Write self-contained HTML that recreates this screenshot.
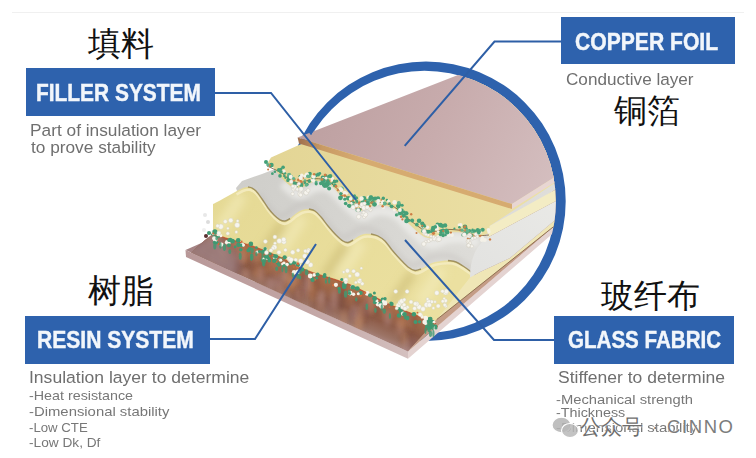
<!DOCTYPE html>
<html><head><meta charset="utf-8">
<style>
html,body{margin:0;padding:0;background:#fff;}
body{width:756px;height:458px;position:relative;overflow:hidden;font-family:"Liberation Sans",sans-serif;}
.abs{position:absolute;white-space:nowrap;}
.box{position:absolute;background:#2e62ad;}
.bt,.g1,.g2,.cn{position:absolute;white-space:nowrap;transform-origin:0 0;}
.bt{color:#f2f6fb;font-weight:bold;font-size:24px;line-height:24px;-webkit-text-stroke:0.45px #f2f6fb;}
.cn{color:#111;font-size:33px;line-height:33px;}
.g1{color:#6f6f6f;font-size:17.4px;line-height:17.4px;}
.g2{color:#777;font-size:13.5px;line-height:13.5px;}
svg{position:absolute;left:0;top:0;}
</style></head><body>
<div class="abs" style="left:12px;top:12px;width:732px;height:1px;background:#f0f0f0"></div>
<svg width="756" height="458" viewBox="0 0 756 458">
<defs>
<clipPath id="cl"><circle cx="424.4" cy="201.9" r="131.5"/><polygon points="0,0 228,0 310,134 470,300 470,458 0,458"/></clipPath>
<linearGradient id="cu" x1="0" y1="0" x2="1" y2="0.3"><stop offset="0" stop-color="#b89a9b"/><stop offset="0.55" stop-color="#c8acad"/><stop offset="1" stop-color="#d6c1c2"/></linearGradient>
<linearGradient id="ylw" x1="0" y1="0" x2="1" y2="0"><stop offset="0" stop-color="#e3d595"/><stop offset="1" stop-color="#efe4ac"/></linearGradient>
<linearGradient id="ylw2" x1="0" y1="0" x2="1" y2="0.5"><stop offset="0" stop-color="#e5d994"/><stop offset="1" stop-color="#ebe0a0"/></linearGradient>
<linearGradient id="gls" x1="0" y1="0" x2="1" y2="0.4"><stop offset="0" stop-color="#cac9c5"/><stop offset="0.5" stop-color="#d6d5d1"/><stop offset="1" stop-color="#e2e1dd"/></linearGradient>
<linearGradient id="cuf" x1="297" y1="0" x2="360" y2="0" gradientUnits="userSpaceOnUse"><stop offset="0" stop-color="#9c6c4c"/><stop offset="0.4" stop-color="#c89a64"/><stop offset="1" stop-color="#d6ab70"/></linearGradient>
<linearGradient id="cuface" x1="185" y1="0" x2="408" y2="0" gradientUnits="userSpaceOnUse"><stop offset="0" stop-color="#b89898"/><stop offset="0.6" stop-color="#c4a8a7"/><stop offset="1" stop-color="#d4c0bf"/></linearGradient>
<linearGradient id="glsR" x1="0" y1="1" x2="1" y2="0"><stop offset="0" stop-color="#e2e2e0"/><stop offset="1" stop-color="#ebebe8"/></linearGradient>
<linearGradient id="brn" gradientUnits="userSpaceOnUse" x1="300" y1="270" x2="287" y2="302"><stop offset="0" stop-color="#a86c48"/><stop offset="0.5" stop-color="#8e5c48"/><stop offset="0.85" stop-color="#9c7466"/><stop offset="1" stop-color="#a8847e"/></linearGradient>
<filter id="bl2" x="-50%" y="-50%" width="200%" height="200%"><feGaussianBlur stdDeviation="2.5"/></filter>
<filter id="bl3" x="-50%" y="-50%" width="200%" height="200%"><feGaussianBlur stdDeviation="4"/></filter>
<filter id="bl1"><feGaussianBlur stdDeviation="0.75"/></filter>
</defs>
<path fill-rule="evenodd" fill="#2e62ad" d="M286.3,201.2 A139.7,139.7 0 1,0 565.7,201.2 A139.7,139.7 0 1,0 286.3,201.2 Z M293.4,201.9 A131,131 0 1,0 555.4,201.9 A131,131 0 1,0 293.4,201.9 Z"/>
<g clip-path="url(#cl)">
<polygon points="185.5,250.0 408.0,350.0 640.0,154.0 640.0,40.0 215.0,237.0" fill="#a58485"/>
<polygon points="185.5,250.0 408.0,351.6 408.0,358.7 186.0,257.0" fill="url(#cuface)"/>
<polygon points="408.0,351.6 554.0,226.0 640.0,150.0 640.0,158.0 554.0,232.5 408.0,358.7" fill="#e4d3d1"/>
<path d="M236,188 L242,181 L262,174 L275,169 L640,20 L640,130 L489,236 L472,276 L445,300 L250,230 Z" fill="url(#gls)"/>
<g filter="url(#bl2)">
<path d="M283.0,183.3 C284.0,184.3 287.0,187.6 289.0,189.3 C291.0,191.0 293.2,192.6 295.0,193.6 C296.8,194.5 298.3,195.0 300.0,194.9 C301.7,194.9 303.2,194.1 305.0,193.3 C306.8,192.4 309.0,190.7 311.0,189.7 C313.0,188.7 314.8,187.8 317.0,187.4 C319.2,186.9 321.8,186.8 324.0,187.1 C326.2,187.4 328.0,187.9 330.0,189.1 C332.0,190.3 333.8,192.2 336.0,194.3 C338.2,196.5 340.5,199.5 343.0,202.1 C345.5,204.6 348.5,207.7 351.0,209.8 C353.5,212.0 356.0,214.0 358.0,215.2 C360.0,216.3 361.3,216.7 363.0,216.7 C364.7,216.7 366.3,215.8 368.0,215.1 C369.7,214.4 371.2,213.3 373.0,212.7 C374.8,212.0 376.8,211.3 379.0,211.1 C381.2,210.9 383.7,211.2 386.0,211.6 C388.3,212.0 390.7,212.6 393.0,213.7 C395.3,214.8 397.7,216.2 400.0,218.2 C402.3,220.3 404.5,223.4 407.0,225.9 C409.5,228.5 412.3,231.3 415.0,233.7 C417.7,236.2 420.5,239.0 423.0,240.7 C425.5,242.4 427.8,243.6 430.0,244.0 C432.2,244.4 434.0,243.8 436.0,243.3 C438.0,242.7 439.7,241.7 442.0,240.9 C444.3,240.1 446.5,239.1 450.0,238.7 C453.5,238.3 459.5,238.2 463.0,238.4 C466.5,238.7 468.5,239.3 471.0,240.2 C473.5,241.1 476.8,243.3 478.0,243.9" stroke="#efefed" stroke-width="9" fill="none" opacity="0.7"/>
<path d="M259.0,194.0 C260.0,195.5 263.0,200.3 265.0,203.0 C267.0,205.7 269.0,208.0 271.0,210.0 C273.0,212.0 275.2,213.8 277.0,214.8 C278.8,215.8 280.3,216.2 282.0,216.0 C283.7,215.8 285.2,214.8 287.0,213.5 C288.8,212.2 291.0,209.9 293.0,208.5 C295.0,207.1 296.8,205.8 299.0,205.0 C301.2,204.2 303.8,203.8 306.0,204.0 C308.2,204.2 310.0,204.7 312.0,206.0 C314.0,207.3 315.8,209.5 318.0,212.0 C320.2,214.5 322.5,218.0 325.0,221.0 C327.5,224.0 330.5,227.5 333.0,230.0 C335.5,232.5 338.0,234.8 340.0,236.0 C342.0,237.2 343.3,237.7 345.0,237.5 C346.7,237.3 348.3,236.0 350.0,235.0 C351.7,234.0 353.2,232.5 355.0,231.5 C356.8,230.5 358.8,229.4 361.0,229.0 C363.2,228.6 365.7,228.7 368.0,229.0 C370.3,229.3 372.7,229.8 375.0,231.0 C377.3,232.2 379.7,233.7 382.0,236.0 C384.3,238.3 386.5,242.0 389.0,245.0 C391.5,248.0 394.3,251.2 397.0,254.0 C399.7,256.8 402.5,260.1 405.0,262.0 C407.5,263.9 409.8,265.2 412.0,265.5 C414.2,265.8 416.0,264.8 418.0,264.0 C420.0,263.2 421.7,261.7 424.0,260.5 C426.3,259.3 428.5,257.8 432.0,257.0 C435.5,256.2 441.5,255.5 445.0,255.5 C448.5,255.5 450.5,256.1 453.0,257.0 C455.5,257.9 457.7,259.5 460.0,261.0 C462.3,262.5 464.8,264.3 467.0,266.0 C469.2,267.7 471.3,269.2 473.0,271.4 C474.7,273.6 476.3,277.7 477.0,279.0" stroke="#b8b7b2" stroke-width="6" fill="none" opacity="0.3"/>
</g>
<clipPath id="yc"><path d="M213.0,204.0 C214.2,203.4 217.5,201.8 220.0,200.5 C222.5,199.2 225.3,197.5 228.0,196.0 C230.7,194.5 233.5,192.8 236.0,191.5 C238.5,190.2 241.0,188.8 243.0,188.0 C245.0,187.2 246.5,187.0 248.0,187.0 C249.5,187.0 250.7,187.3 252.0,188.0 C253.3,188.7 254.3,189.2 256.0,191.0 C257.7,192.8 260.0,196.2 262.0,199.0 C264.0,201.8 266.0,205.3 268.0,208.0 C270.0,210.7 272.0,213.0 274.0,215.0 C276.0,217.0 278.2,218.8 280.0,219.8 C281.8,220.8 283.3,221.2 285.0,221.0 C286.7,220.8 288.2,219.8 290.0,218.5 C291.8,217.2 294.0,214.9 296.0,213.5 C298.0,212.1 299.8,210.8 302.0,210.0 C304.2,209.2 306.8,208.8 309.0,209.0 C311.2,209.2 313.0,209.7 315.0,211.0 C317.0,212.3 318.8,214.5 321.0,217.0 C323.2,219.5 325.5,223.0 328.0,226.0 C330.5,229.0 333.5,232.5 336.0,235.0 C338.5,237.5 341.0,239.8 343.0,241.0 C345.0,242.2 346.3,242.7 348.0,242.5 C349.7,242.3 351.3,241.0 353.0,240.0 C354.7,239.0 356.2,237.5 358.0,236.5 C359.8,235.5 361.8,234.4 364.0,234.0 C366.2,233.6 368.7,233.7 371.0,234.0 C373.3,234.3 375.7,234.8 378.0,236.0 C380.3,237.2 382.7,238.7 385.0,241.0 C387.3,243.3 389.5,247.0 392.0,250.0 C394.5,253.0 397.3,256.2 400.0,259.0 C402.7,261.8 405.5,265.1 408.0,267.0 C410.5,268.9 412.8,270.2 415.0,270.5 C417.2,270.8 419.0,269.8 421.0,269.0 C423.0,268.2 424.7,266.7 427.0,265.5 C429.3,264.3 431.5,262.8 435.0,262.0 C438.5,261.2 444.5,260.5 448.0,260.5 C451.5,260.5 453.5,261.1 456.0,262.0 C458.5,262.9 460.7,264.5 463.0,266.0 C465.3,267.5 467.8,269.3 470.0,271.0 C472.2,272.7 474.3,274.2 476.0,276.4 C477.7,278.6 479.3,282.7 480.0,284.0 L437.0,319.3 L436.0,322.0 L436.0,324.0 C434.7,323.3 435.9,323.3 428.0,320.0 C420.1,316.7 401.7,309.9 388.6,304.0 C375.5,298.1 362.4,289.9 349.3,284.5 C336.2,279.1 321.8,276.3 310.0,271.7 C298.2,267.1 288.2,260.9 278.6,256.7 C269.0,252.4 262.6,249.7 252.4,246.2 C242.2,242.7 224.1,237.7 217.5,235.7 C210.9,233.7 213.8,234.3 213.0,234.0 Z"/></clipPath>
<path d="M213.0,204.0 C214.2,203.4 217.5,201.8 220.0,200.5 C222.5,199.2 225.3,197.5 228.0,196.0 C230.7,194.5 233.5,192.8 236.0,191.5 C238.5,190.2 241.0,188.8 243.0,188.0 C245.0,187.2 246.5,187.0 248.0,187.0 C249.5,187.0 250.7,187.3 252.0,188.0 C253.3,188.7 254.3,189.2 256.0,191.0 C257.7,192.8 260.0,196.2 262.0,199.0 C264.0,201.8 266.0,205.3 268.0,208.0 C270.0,210.7 272.0,213.0 274.0,215.0 C276.0,217.0 278.2,218.8 280.0,219.8 C281.8,220.8 283.3,221.2 285.0,221.0 C286.7,220.8 288.2,219.8 290.0,218.5 C291.8,217.2 294.0,214.9 296.0,213.5 C298.0,212.1 299.8,210.8 302.0,210.0 C304.2,209.2 306.8,208.8 309.0,209.0 C311.2,209.2 313.0,209.7 315.0,211.0 C317.0,212.3 318.8,214.5 321.0,217.0 C323.2,219.5 325.5,223.0 328.0,226.0 C330.5,229.0 333.5,232.5 336.0,235.0 C338.5,237.5 341.0,239.8 343.0,241.0 C345.0,242.2 346.3,242.7 348.0,242.5 C349.7,242.3 351.3,241.0 353.0,240.0 C354.7,239.0 356.2,237.5 358.0,236.5 C359.8,235.5 361.8,234.4 364.0,234.0 C366.2,233.6 368.7,233.7 371.0,234.0 C373.3,234.3 375.7,234.8 378.0,236.0 C380.3,237.2 382.7,238.7 385.0,241.0 C387.3,243.3 389.5,247.0 392.0,250.0 C394.5,253.0 397.3,256.2 400.0,259.0 C402.7,261.8 405.5,265.1 408.0,267.0 C410.5,268.9 412.8,270.2 415.0,270.5 C417.2,270.8 419.0,269.8 421.0,269.0 C423.0,268.2 424.7,266.7 427.0,265.5 C429.3,264.3 431.5,262.8 435.0,262.0 C438.5,261.2 444.5,260.5 448.0,260.5 C451.5,260.5 453.5,261.1 456.0,262.0 C458.5,262.9 460.7,264.5 463.0,266.0 C465.3,267.5 467.8,269.3 470.0,271.0 C472.2,272.7 474.3,274.2 476.0,276.4 C477.7,278.6 479.3,282.7 480.0,284.0 L437.0,319.3 L436.0,322.0 L436.0,324.0 C434.7,323.3 435.9,323.3 428.0,320.0 C420.1,316.7 401.7,309.9 388.6,304.0 C375.5,298.1 362.4,289.9 349.3,284.5 C336.2,279.1 321.8,276.3 310.0,271.7 C298.2,267.1 288.2,260.9 278.6,256.7 C269.0,252.4 262.6,249.7 252.4,246.2 C242.2,242.7 224.1,237.7 217.5,235.7 C210.9,233.7 213.8,234.3 213.0,234.0 Z" fill="url(#ylw2)"/>
<g clip-path="url(#yc)"><g filter="url(#bl3)">
<path d="M283,223 L261,255" stroke="#c4b46c" stroke-width="9" fill="none" opacity="0.55"/>
<path d="M346,244.5 L324,276.5" stroke="#c4b46c" stroke-width="9" fill="none" opacity="0.55"/>
<path d="M413,272.5 L391,304.5" stroke="#c4b46c" stroke-width="9" fill="none" opacity="0.55"/>
<path d="M242,195 L220,229" stroke="#f4ecbc" stroke-width="12" fill="none" opacity="0.6"/>
<path d="M303,217 L281,251" stroke="#f4ecbc" stroke-width="12" fill="none" opacity="0.6"/>
<path d="M362,242 L340,276" stroke="#f4ecbc" stroke-width="12" fill="none" opacity="0.6"/>
<path d="M442.5,268.5 L420.5,302.5" stroke="#f4ecbc" stroke-width="12" fill="none" opacity="0.6"/>
</g></g>
<g clip-path="url(#yc)">
<path d="M236.5,194.3 C237.7,193.7 241.5,191.6 243.5,190.8 C245.5,190.1 247.0,189.8 248.5,189.8 C250.0,189.8 251.2,190.1 252.5,190.8 C253.8,191.5 254.8,192.0 256.5,193.8 C258.2,195.6 260.5,199.0 262.5,201.8 C264.5,204.6 266.5,208.1 268.5,210.8 C270.5,213.5 272.5,215.8 274.5,217.8 C276.5,219.8 278.7,221.6 280.5,222.6 C282.3,223.6 283.8,224.0 285.5,223.8 C287.2,223.6 288.7,222.6 290.5,221.3 C292.3,220.1 294.5,217.7 296.5,216.3 C298.5,214.9 300.3,213.6 302.5,212.8 C304.7,212.1 307.3,211.6 309.5,211.8 C311.7,212.0 313.5,212.5 315.5,213.8 C317.5,215.1 319.3,217.3 321.5,219.8 C323.7,222.3 326.0,225.8 328.5,228.8 C331.0,231.8 334.0,235.3 336.5,237.8 C339.0,240.3 341.5,242.6 343.5,243.8 C345.5,245.1 346.8,245.5 348.5,245.3 C350.2,245.1 351.8,243.8 353.5,242.8 C355.2,241.8 356.7,240.3 358.5,239.3 C360.3,238.3 362.3,237.2 364.5,236.8 C366.7,236.4 369.2,236.5 371.5,236.8 C373.8,237.1 376.2,237.6 378.5,238.8 C380.8,240.0 383.2,241.5 385.5,243.8 C387.8,246.1 390.0,249.8 392.5,252.8 C395.0,255.8 397.8,259.0 400.5,261.8 C403.2,264.6 406.0,267.9 408.5,269.8 C411.0,271.7 413.3,273.0 415.5,273.3 C417.7,273.6 419.5,272.6 421.5,271.8 C423.5,271.0 425.2,269.5 427.5,268.3 C429.8,267.1 432.0,265.6 435.5,264.8 C439.0,264.0 445.0,263.3 448.5,263.3 C452.0,263.3 454.0,263.9 456.5,264.8 C459.0,265.7 461.2,267.3 463.5,268.8 C465.8,270.3 468.3,272.1 470.5,273.8 C472.7,275.5 474.8,277.0 476.5,279.2 C478.2,281.4 479.8,285.5 480.5,286.8" stroke="#f4ecc2" stroke-width="2.6" fill="none" opacity="0.85"/>
</g>
<path d="M248.0,187.0 C248.7,187.2 250.7,187.3 252.0,188.0 C253.3,188.7 254.3,189.2 256.0,191.0 C257.7,192.8 260.0,196.2 262.0,199.0 C264.0,201.8 266.0,205.3 268.0,208.0 C270.0,210.7 272.0,213.0 274.0,215.0 C276.0,217.0 278.2,218.8 280.0,219.8 C281.8,220.8 283.3,221.2 285.0,221.0 C286.7,220.8 289.2,218.9 290.0,218.5" fill="none" stroke="#8c7a42" stroke-width="1.4" opacity="0.75"/>
<path d="M309.0,209.0 C310.0,209.3 313.0,209.7 315.0,211.0 C317.0,212.3 318.8,214.5 321.0,217.0 C323.2,219.5 325.5,223.0 328.0,226.0 C330.5,229.0 333.5,232.5 336.0,235.0 C338.5,237.5 341.0,239.8 343.0,241.0 C345.0,242.2 346.3,242.7 348.0,242.5 C349.7,242.3 352.2,240.4 353.0,240.0" fill="none" stroke="#8c7a42" stroke-width="1.4" opacity="0.75"/>
<path d="M371.0,234.0 C372.2,234.3 375.7,234.8 378.0,236.0 C380.3,237.2 382.7,238.7 385.0,241.0 C387.3,243.3 389.5,247.0 392.0,250.0 C394.5,253.0 397.3,256.2 400.0,259.0 C402.7,261.8 405.5,265.1 408.0,267.0 C410.5,268.9 412.8,270.2 415.0,270.5 C417.2,270.8 420.0,269.2 421.0,269.0" fill="none" stroke="#8c7a42" stroke-width="1.4" opacity="0.75"/>
<path d="M448.0,260.5 C449.3,260.8 453.5,261.1 456.0,262.0 C458.5,262.9 460.7,264.5 463.0,266.0 C465.3,267.5 467.8,269.3 470.0,271.0 C472.2,272.7 475.0,275.5 476.0,276.4" fill="none" stroke="#8c7a42" stroke-width="1.4" opacity="0.75"/>
<clipPath id="bc"><path d="M213.0,234.0 C213.8,234.3 210.9,233.7 217.5,235.7 C224.1,237.7 242.2,242.7 252.4,246.2 C262.6,249.7 269.0,252.4 278.6,256.7 C288.2,260.9 298.2,267.1 310.0,271.7 C321.8,276.3 336.2,279.1 349.3,284.5 C362.4,289.9 375.5,298.1 388.6,304.0 C401.7,309.9 420.1,316.7 428.0,320.0 C435.9,323.3 434.7,323.3 436.0,324.0 L437.0,319.3 L408.0,351.6 L300.0,302.5 L191.0,252.5 L205.0,240.0 Z"/></clipPath>
<path d="M213.0,234.0 C213.8,234.3 210.9,233.7 217.5,235.7 C224.1,237.7 242.2,242.7 252.4,246.2 C262.6,249.7 269.0,252.4 278.6,256.7 C288.2,260.9 298.2,267.1 310.0,271.7 C321.8,276.3 336.2,279.1 349.3,284.5 C362.4,289.9 375.5,298.1 388.6,304.0 C401.7,309.9 420.1,316.7 428.0,320.0 C435.9,323.3 434.7,323.3 436.0,324.0 L437.0,319.3 L408.0,351.6 L300.0,302.5 L191.0,252.5 L205.0,240.0 Z" fill="url(#brn)"/>
<g clip-path="url(#bc)">
<ellipse cx="266.2" cy="262.2" rx="2.2" ry="8.2" fill="#84503a" opacity="0.5" filter="url(#bl2)"/>
<ellipse cx="275.5" cy="263.3" rx="2.1" ry="7.6" fill="#b87a50" opacity="0.5" filter="url(#bl2)"/>
<ellipse cx="210.4" cy="237.3" rx="2.1" ry="8.4" fill="#c08a68" opacity="0.5" filter="url(#bl2)"/>
<ellipse cx="403.4" cy="336.1" rx="3.4" ry="7.4" fill="#84503a" opacity="0.5" filter="url(#bl2)"/>
<ellipse cx="409.8" cy="318.3" rx="2.7" ry="5.9" fill="#8c6060" opacity="0.5" filter="url(#bl2)"/>
<ellipse cx="220.9" cy="247.5" rx="2.3" ry="8.4" fill="#8c6060" opacity="0.5" filter="url(#bl2)"/>
<ellipse cx="236.3" cy="248.2" rx="3.4" ry="8.7" fill="#c09080" opacity="0.5" filter="url(#bl2)"/>
<ellipse cx="304.2" cy="289.6" rx="3.2" ry="10.5" fill="#b08a88" opacity="0.5" filter="url(#bl2)"/>
<ellipse cx="274.5" cy="268.5" rx="3.7" ry="6.5" fill="#8c6060" opacity="0.5" filter="url(#bl2)"/>
<ellipse cx="321.4" cy="296.8" rx="3.8" ry="6.7" fill="#b08a88" opacity="0.5" filter="url(#bl2)"/>
<ellipse cx="410.6" cy="321.2" rx="2.4" ry="7.1" fill="#c08a68" opacity="0.5" filter="url(#bl2)"/>
<ellipse cx="400.3" cy="327.4" rx="3.9" ry="8.4" fill="#c09080" opacity="0.5" filter="url(#bl2)"/>
<ellipse cx="387.6" cy="318.3" rx="3.5" ry="8.5" fill="#b08a88" opacity="0.5" filter="url(#bl2)"/>
<ellipse cx="295.4" cy="295.1" rx="3.2" ry="9.0" fill="#70443a" opacity="0.5" filter="url(#bl2)"/>
<ellipse cx="208.3" cy="252.5" rx="2.7" ry="7.3" fill="#7a4a3c" opacity="0.5" filter="url(#bl2)"/>
<ellipse cx="342.1" cy="289.7" rx="2.9" ry="8.7" fill="#7a4a3c" opacity="0.5" filter="url(#bl2)"/>
<ellipse cx="303.6" cy="279.8" rx="2.3" ry="6.5" fill="#70443a" opacity="0.5" filter="url(#bl2)"/>
<ellipse cx="281.0" cy="289.6" rx="2.4" ry="7.4" fill="#c09080" opacity="0.5" filter="url(#bl2)"/>
<ellipse cx="256.1" cy="257.6" rx="4.2" ry="6.7" fill="#c08a68" opacity="0.5" filter="url(#bl2)"/>
<ellipse cx="286.4" cy="276.7" rx="4.4" ry="5.9" fill="#c08a68" opacity="0.5" filter="url(#bl2)"/>
<ellipse cx="233.8" cy="250.9" rx="2.0" ry="10.0" fill="#b87a50" opacity="0.5" filter="url(#bl2)"/>
<ellipse cx="235.1" cy="252.8" rx="3.0" ry="7.2" fill="#8c6060" opacity="0.5" filter="url(#bl2)"/>
<ellipse cx="319.6" cy="309.4" rx="3.1" ry="10.2" fill="#84503a" opacity="0.5" filter="url(#bl2)"/>
<ellipse cx="404.4" cy="338.2" rx="3.0" ry="7.4" fill="#c08a68" opacity="0.5" filter="url(#bl2)"/>
<ellipse cx="300.9" cy="284.2" rx="2.2" ry="6.3" fill="#b87a50" opacity="0.5" filter="url(#bl2)"/>
<ellipse cx="230.7" cy="252.5" rx="2.3" ry="8.4" fill="#84503a" opacity="0.5" filter="url(#bl2)"/>
<ellipse cx="313.1" cy="306.3" rx="2.2" ry="6.2" fill="#84503a" opacity="0.5" filter="url(#bl2)"/>
<ellipse cx="277.8" cy="281.2" rx="3.5" ry="7.8" fill="#b08a88" opacity="0.5" filter="url(#bl2)"/>
<ellipse cx="220.4" cy="252.1" rx="3.2" ry="6.9" fill="#7a4a3c" opacity="0.5" filter="url(#bl2)"/>
<ellipse cx="226.7" cy="261.9" rx="3.2" ry="9.2" fill="#70443a" opacity="0.5" filter="url(#bl2)"/>
<ellipse cx="308.6" cy="281.5" rx="2.4" ry="8.3" fill="#b08a88" opacity="0.5" filter="url(#bl2)"/>
<ellipse cx="200.9" cy="244.8" rx="3.7" ry="6.6" fill="#c09080" opacity="0.5" filter="url(#bl2)"/>
<ellipse cx="275.7" cy="266.6" rx="3.3" ry="9.7" fill="#b87a50" opacity="0.5" filter="url(#bl2)"/>
<ellipse cx="267.5" cy="264.8" rx="4.0" ry="9.9" fill="#b87a50" opacity="0.5" filter="url(#bl2)"/>
<ellipse cx="357.8" cy="302.8" rx="2.9" ry="5.2" fill="#7a4a3c" opacity="0.5" filter="url(#bl2)"/>
<ellipse cx="201.1" cy="238.4" rx="2.5" ry="8.6" fill="#70443a" opacity="0.5" filter="url(#bl2)"/>
<ellipse cx="270.7" cy="283.1" rx="4.4" ry="7.2" fill="#b08a88" opacity="0.5" filter="url(#bl2)"/>
<ellipse cx="243.5" cy="254.8" rx="2.8" ry="7.9" fill="#b87a50" opacity="0.5" filter="url(#bl2)"/>
<ellipse cx="411.8" cy="339.0" rx="3.2" ry="8.9" fill="#84503a" opacity="0.5" filter="url(#bl2)"/>
<ellipse cx="370.9" cy="303.6" rx="4.3" ry="9.7" fill="#c09080" opacity="0.5" filter="url(#bl2)"/>
<ellipse cx="360.0" cy="312.0" rx="3.1" ry="8.8" fill="#8c6060" opacity="0.5" filter="url(#bl2)"/>
<ellipse cx="214.1" cy="261.5" rx="3.2" ry="9.5" fill="#c08a68" opacity="0.5" filter="url(#bl2)"/>
<ellipse cx="213.7" cy="240.5" rx="2.1" ry="8.5" fill="#8c6060" opacity="0.5" filter="url(#bl2)"/>
<ellipse cx="297.4" cy="290.4" rx="3.6" ry="7.1" fill="#7a4a3c" opacity="0.5" filter="url(#bl2)"/>
<ellipse cx="315.7" cy="282.2" rx="4.0" ry="9.4" fill="#84503a" opacity="0.5" filter="url(#bl2)"/>
<ellipse cx="217.6" cy="257.9" rx="3.1" ry="10.2" fill="#8c6060" opacity="0.5" filter="url(#bl2)"/>
<ellipse cx="376.8" cy="310.2" rx="2.5" ry="8.0" fill="#70443a" opacity="0.5" filter="url(#bl2)"/>
<ellipse cx="363.0" cy="308.3" rx="4.1" ry="5.4" fill="#c08a68" opacity="0.5" filter="url(#bl2)"/>
<ellipse cx="357.8" cy="324.9" rx="4.1" ry="10.3" fill="#c08a68" opacity="0.5" filter="url(#bl2)"/>
<ellipse cx="223.8" cy="244.5" rx="4.2" ry="9.7" fill="#84503a" opacity="0.5" filter="url(#bl2)"/>
<ellipse cx="328.9" cy="308.0" rx="2.4" ry="7.8" fill="#8c6060" opacity="0.5" filter="url(#bl2)"/>
<ellipse cx="354.5" cy="312.2" rx="3.7" ry="8.2" fill="#b08a88" opacity="0.5" filter="url(#bl2)"/>
<ellipse cx="301.1" cy="295.7" rx="2.6" ry="6.7" fill="#84503a" opacity="0.5" filter="url(#bl2)"/>
<ellipse cx="364.9" cy="315.1" rx="3.9" ry="10.5" fill="#84503a" opacity="0.5" filter="url(#bl2)"/>
<ellipse cx="292.5" cy="287.0" rx="3.7" ry="7.7" fill="#b87a50" opacity="0.5" filter="url(#bl2)"/>
<ellipse cx="312.3" cy="291.5" rx="3.7" ry="10.3" fill="#b87a50" opacity="0.5" filter="url(#bl2)"/>
<ellipse cx="402.3" cy="322.6" rx="4.1" ry="5.8" fill="#b87a50" opacity="0.5" filter="url(#bl2)"/>
<ellipse cx="221.8" cy="251.5" rx="3.7" ry="7.6" fill="#c09080" opacity="0.5" filter="url(#bl2)"/>
<ellipse cx="241.8" cy="256.2" rx="4.2" ry="5.9" fill="#c09080" opacity="0.5" filter="url(#bl2)"/>
<ellipse cx="352.5" cy="314.8" rx="2.6" ry="5.8" fill="#8c6060" opacity="0.5" filter="url(#bl2)"/>
<ellipse cx="297.9" cy="293.4" rx="3.0" ry="7.9" fill="#c09080" opacity="0.5" filter="url(#bl2)"/>
<ellipse cx="412.8" cy="347.3" rx="3.8" ry="11.0" fill="#8c6060" opacity="0.5" filter="url(#bl2)"/>
<ellipse cx="283.8" cy="277.5" rx="2.8" ry="9.3" fill="#b08a88" opacity="0.5" filter="url(#bl2)"/>
<ellipse cx="199.3" cy="244.7" rx="3.8" ry="7.3" fill="#7a4a3c" opacity="0.5" filter="url(#bl2)"/>
<ellipse cx="308.8" cy="284.4" rx="2.3" ry="10.5" fill="#c09080" opacity="0.5" filter="url(#bl2)"/>
<ellipse cx="245.3" cy="273.7" rx="2.7" ry="5.2" fill="#c09080" opacity="0.5" filter="url(#bl2)"/>
<ellipse cx="366.4" cy="307.9" rx="4.0" ry="10.1" fill="#8c6060" opacity="0.5" filter="url(#bl2)"/>
<ellipse cx="343.7" cy="320.1" rx="2.4" ry="10.5" fill="#c08a68" opacity="0.5" filter="url(#bl2)"/>
<ellipse cx="320.5" cy="302.0" rx="2.7" ry="9.8" fill="#c09080" opacity="0.5" filter="url(#bl2)"/>
<ellipse cx="235.3" cy="269.7" rx="4.3" ry="8.8" fill="#70443a" opacity="0.5" filter="url(#bl2)"/>
<ellipse cx="371.4" cy="303.7" rx="2.2" ry="10.2" fill="#b87a50" opacity="0.5" filter="url(#bl2)"/>
<ellipse cx="294.8" cy="279.8" rx="4.3" ry="6.6" fill="#c08a68" opacity="0.5" filter="url(#bl2)"/>
<ellipse cx="223.4" cy="254.5" rx="4.3" ry="10.8" fill="#b87a50" opacity="0.5" filter="url(#bl2)"/>
<ellipse cx="252.6" cy="257.4" rx="3.6" ry="8.2" fill="#70443a" opacity="0.5" filter="url(#bl2)"/>
<ellipse cx="240.3" cy="259.5" rx="2.7" ry="9.8" fill="#8c6060" opacity="0.5" filter="url(#bl2)"/>
<ellipse cx="413.8" cy="319.6" rx="3.8" ry="8.3" fill="#84503a" opacity="0.5" filter="url(#bl2)"/>
<ellipse cx="236.7" cy="258.8" rx="2.3" ry="9.9" fill="#7a4a3c" opacity="0.5" filter="url(#bl2)"/>
<ellipse cx="290.1" cy="282.4" rx="4.4" ry="6.8" fill="#c08a68" opacity="0.5" filter="url(#bl2)"/>
<ellipse cx="242.3" cy="254.4" rx="4.1" ry="9.2" fill="#b87a50" opacity="0.5" filter="url(#bl2)"/>
<ellipse cx="334.9" cy="298.9" rx="4.5" ry="10.0" fill="#b08a88" opacity="0.5" filter="url(#bl2)"/>
<ellipse cx="198.1" cy="246.1" rx="3.1" ry="5.3" fill="#70443a" opacity="0.5" filter="url(#bl2)"/>
<ellipse cx="341.4" cy="300.9" rx="3.5" ry="9.2" fill="#70443a" opacity="0.5" filter="url(#bl2)"/>
<ellipse cx="205.0" cy="237.5" rx="3.1" ry="6.6" fill="#70443a" opacity="0.5" filter="url(#bl2)"/>
<ellipse cx="406.6" cy="349.4" rx="2.6" ry="10.8" fill="#b08a88" opacity="0.5" filter="url(#bl2)"/>
<ellipse cx="263.1" cy="266.8" rx="2.8" ry="5.5" fill="#84503a" opacity="0.5" filter="url(#bl2)"/>
<ellipse cx="256.4" cy="272.4" rx="3.3" ry="5.0" fill="#b87a50" opacity="0.5" filter="url(#bl2)"/>
<ellipse cx="253.1" cy="255.0" rx="3.5" ry="7.4" fill="#c08a68" opacity="0.5" filter="url(#bl2)"/>
<ellipse cx="260.9" cy="273.7" rx="3.5" ry="8.2" fill="#c09080" opacity="0.5" filter="url(#bl2)"/>
<ellipse cx="360.1" cy="318.0" rx="3.9" ry="9.3" fill="#c08a68" opacity="0.5" filter="url(#bl2)"/>
<ellipse cx="303.7" cy="281.9" rx="2.1" ry="10.0" fill="#8c6060" opacity="0.5" filter="url(#bl2)"/>
</g>
<path d="M180,250 L215,232 L240,258 L235,280 Z" fill="#9e8082" opacity="0.85" filter="url(#bl3)" clip-path="url(#bc)"/>
<path d="M271,157.5 L299,145 L640,10 L640,127 L489.7,226 L491,234 L489.0,233.0 C486.8,233.8 479.3,237.7 476.0,237.9 C472.7,238.1 471.5,235.1 469.0,234.2 C466.5,233.3 464.5,232.7 461.0,232.4 C457.5,232.2 451.5,232.3 448.0,232.7 C444.5,233.1 442.3,234.1 440.0,234.9 C437.7,235.7 436.0,236.7 434.0,237.3 C432.0,237.8 430.2,238.4 428.0,238.0 C425.8,237.6 423.5,236.4 421.0,234.7 C418.5,233.0 415.7,230.2 413.0,227.7 C410.3,225.3 407.5,222.5 405.0,219.9 C402.5,217.4 400.3,214.3 398.0,212.2 C395.7,210.2 393.3,208.8 391.0,207.7 C388.7,206.6 386.3,206.0 384.0,205.6 C381.7,205.2 379.2,204.9 377.0,205.1 C374.8,205.3 372.8,206.0 371.0,206.7 C369.2,207.3 367.7,208.4 366.0,209.1 C364.3,209.8 362.7,210.7 361.0,210.7 C359.3,210.7 358.0,210.3 356.0,209.2 C354.0,208.0 351.5,206.0 349.0,203.8 C346.5,201.7 343.5,198.6 341.0,196.1 C338.5,193.5 336.2,190.5 334.0,188.3 C331.8,186.2 330.0,184.3 328.0,183.1 C326.0,181.9 324.2,181.4 322.0,181.1 C319.8,180.8 317.2,180.9 315.0,181.4 C312.8,181.8 311.0,182.7 309.0,183.7 C307.0,184.7 304.8,186.4 303.0,187.3 C301.2,188.1 299.7,188.9 298.0,188.9 C296.3,189.0 294.8,188.5 293.0,187.6 C291.2,186.6 289.0,185.0 287.0,183.3 C285.0,181.6 283.5,180.1 281.0,177.3 C278.5,174.4 274.3,168.2 272.0,166.0 C269.7,163.8 267.8,164.3 267.0,164.0 Z" fill="url(#ylw)"/>
<polygon points="408.0,351.6 437.0,319.3 554.0,226.2" fill="#c49c86"/>
<path d="M437,319.3 L470,277.6 L480,272 L510,258 L554,221 L590,191 L590,197.7 Z" fill="#efe6b6"/>
<path d="M470,277.6 L480,272 L510,258 L554,221 L590,191 L590,183 L554,202 L487.6,237.5 C478,244 470,256 470,277.6 Z" fill="url(#glsR)"/>
<path d="M487.6,237.5 L554,202 L590,183 L590,171 L554,190.5 L489.7,226 Z" fill="#f3ecc4"/>
<line x1="437" y1="319.3" x2="590" y2="197.7" stroke="#8a6a48" stroke-width="0.9"/>
<polygon points="297.6,137.6 512.0,204.0 640.0,123.6 640.0,4.0" fill="url(#cu)"/>
<polygon points="297.6,137.6 512.0,204.0 512.0,209.0 299.0,143.5" fill="url(#cuf)"/>
<polygon points="512.0,204.0 640.0,123.6 640.0,129.1 512.0,209.0" fill="#e8d6d3"/>
</g>
<path d="M267.0,166.0 C269.3,167.1 277.7,170.6 281.0,172.5 C284.3,174.5 285.0,176.1 287.0,177.6 C289.0,179.1 291.2,180.5 293.0,181.4 C294.8,182.2 296.3,182.7 298.0,182.8 C299.7,182.9 301.2,182.5 303.0,182.0 C304.8,181.6 307.0,180.5 309.0,179.9 C311.0,179.4 312.8,178.8 315.0,178.7 C317.2,178.6 319.8,178.7 322.0,179.1 C324.2,179.5 326.0,180.1 328.0,181.2 C330.0,182.3 331.8,183.9 334.0,185.7 C336.2,187.5 338.5,189.9 341.0,192.1 C343.5,194.3 346.5,196.8 349.0,198.7 C351.5,200.5 354.0,202.3 356.0,203.3 C358.0,204.4 359.3,204.8 361.0,204.9 C362.7,205.1 364.3,204.5 366.0,204.2 C367.7,203.8 369.2,203.1 371.0,202.8 C372.8,202.5 374.8,202.1 377.0,202.2 C379.2,202.2 381.7,202.7 384.0,203.2 C386.3,203.7 388.7,204.4 391.0,205.4 C393.3,206.5 395.7,207.7 398.0,209.5 C400.3,211.2 402.5,213.7 405.0,215.9 C407.5,218.0 410.3,220.4 413.0,222.5 C415.7,224.5 418.5,226.9 421.0,228.4 C423.5,229.9 425.8,231.0 428.0,231.5 C430.2,232.1 432.0,231.7 434.0,231.5 C436.0,231.3 437.7,230.7 440.0,230.3 C442.3,229.9 444.5,229.4 448.0,229.4 C451.5,229.4 457.5,229.9 461.0,230.4 C464.5,230.9 466.5,231.5 469.0,232.5 C471.5,233.4 472.7,235.5 476.0,235.9 C479.3,236.3 486.8,235.1 489.0,235.0" fill="none" stroke="#6a4a2a" stroke-width="0.9" opacity="0.8"/>
<path d="M213.0,234.0 C213.8,234.3 210.9,233.7 217.5,235.7 C224.1,237.7 242.2,242.7 252.4,246.2 C262.6,249.7 269.0,252.4 278.6,256.7 C288.2,260.9 298.2,267.1 310.0,271.7 C321.8,276.3 336.2,279.1 349.3,284.5 C362.4,289.9 375.5,298.1 388.6,304.0 C401.7,309.9 420.1,316.7 428.0,320.0 C435.9,323.3 434.7,323.3 436.0,324.0" fill="none" stroke="#c0502a" stroke-width="1.3" opacity="0.8"/>
<g filter="url(#bl1)">
<circle cx="464.5" cy="233.4" r="1.9" fill="#45a078"/>
<circle cx="372.0" cy="202.3" r="1.6" fill="#cf7d45"/>
<circle cx="442.1" cy="231.3" r="2.4" fill="#45a078"/>
<circle cx="441.0" cy="232.3" r="1.7" fill="#45a078"/>
<circle cx="311.5" cy="179.9" r="1.2" fill="#f4f1e8"/>
<circle cx="480.4" cy="236.0" r="1.3" fill="#cf7d45"/>
<circle cx="398.4" cy="206.0" r="2.2" fill="#45a078"/>
<circle cx="324.7" cy="181.6" r="1.7" fill="#45a078"/>
<circle cx="372.7" cy="202.1" r="2.1" fill="#45a078"/>
<circle cx="423.9" cy="225.1" r="1.7" fill="#45a078"/>
<circle cx="325.7" cy="175.9" r="1.8" fill="#45a078"/>
<circle cx="404.8" cy="213.8" r="1.5" fill="#f4f1e8"/>
<circle cx="368.6" cy="197.0" r="1.6" fill="#f4f1e8"/>
<circle cx="398.7" cy="208.9" r="1.5" fill="#45a078"/>
<circle cx="327.6" cy="181.4" r="2.4" fill="#45a078"/>
<circle cx="294.1" cy="179.5" r="1.5" fill="#cf7d45"/>
<circle cx="403.3" cy="215.9" r="1.5" fill="#45a078"/>
<circle cx="416.8" cy="224.6" r="1.9" fill="#45a078"/>
<circle cx="298.4" cy="180.0" r="1.4" fill="#cf7d45"/>
<circle cx="288.3" cy="180.1" r="2.0" fill="#45a078"/>
<circle cx="448.5" cy="235.3" r="1.7" fill="#f4f1e8"/>
<circle cx="354.5" cy="195.7" r="1.5" fill="#45a078"/>
<circle cx="386.9" cy="200.0" r="1.3" fill="#45a078"/>
<circle cx="344.9" cy="192.6" r="1.8" fill="#f4f1e8"/>
<circle cx="460.7" cy="230.1" r="1.5" fill="#cf7d45"/>
<circle cx="460.6" cy="224.9" r="1.8" fill="#f4f1e8"/>
<circle cx="368.6" cy="205.5" r="1.8" fill="#62b28c"/>
<circle cx="356.1" cy="207.5" r="1.3" fill="#cf7d45"/>
<circle cx="270.1" cy="166.4" r="1.0" fill="#cf7d45"/>
<circle cx="490.0" cy="239.4" r="1.2" fill="#cf7d45"/>
<circle cx="325.6" cy="180.5" r="1.0" fill="#cf7d45"/>
<circle cx="454.4" cy="228.6" r="1.1" fill="#45a078"/>
<circle cx="325.2" cy="175.0" r="1.5" fill="#cf7d45"/>
<circle cx="411.2" cy="214.3" r="1.2" fill="#cf7d45"/>
<circle cx="323.0" cy="182.8" r="2.0" fill="#f4f1e8"/>
<circle cx="443.2" cy="233.6" r="1.5" fill="#62b28c"/>
<circle cx="404.2" cy="212.2" r="1.6" fill="#45a078"/>
<circle cx="309.3" cy="181.3" r="1.7" fill="#45a078"/>
<circle cx="360.8" cy="208.4" r="1.6" fill="#cf7d45"/>
<circle cx="370.1" cy="199.1" r="1.8" fill="#45a078"/>
<circle cx="366.1" cy="200.2" r="1.3" fill="#45a078"/>
<circle cx="425.7" cy="232.8" r="1.8" fill="#f4f1e8"/>
<circle cx="332.4" cy="178.3" r="1.6" fill="#f4f1e8"/>
<circle cx="396.5" cy="214.9" r="1.6" fill="#45a078"/>
<circle cx="368.3" cy="200.9" r="2.1" fill="#62b28c"/>
<circle cx="427.5" cy="227.3" r="1.7" fill="#f4f1e8"/>
<circle cx="288.6" cy="175.6" r="1.2" fill="#45a078"/>
<circle cx="343.7" cy="198.0" r="1.0" fill="#cf7d45"/>
<circle cx="426.0" cy="233.6" r="1.1" fill="#45a078"/>
<circle cx="309.8" cy="173.7" r="2.0" fill="#45a078"/>
<circle cx="324.2" cy="182.1" r="2.4" fill="#45a078"/>
<circle cx="378.0" cy="198.5" r="2.2" fill="#45a078"/>
<circle cx="326.3" cy="182.2" r="1.1" fill="#45a078"/>
<circle cx="363.9" cy="208.8" r="1.1" fill="#cf7d45"/>
<circle cx="268.1" cy="169.5" r="1.0" fill="#cf7d45"/>
<circle cx="437.6" cy="224.5" r="2.1" fill="#45a078"/>
<circle cx="359.4" cy="202.8" r="1.5" fill="#cf7d45"/>
<circle cx="363.6" cy="199.0" r="1.0" fill="#cf7d45"/>
<circle cx="303.0" cy="177.5" r="1.4" fill="#cf7d45"/>
<circle cx="447.1" cy="232.3" r="2.3" fill="#45a078"/>
<circle cx="363.9" cy="198.4" r="2.4" fill="#45a078"/>
<circle cx="302.9" cy="183.9" r="0.9" fill="#cf7d45"/>
<circle cx="334.9" cy="185.4" r="1.9" fill="#45a078"/>
<circle cx="356.0" cy="198.8" r="1.3" fill="#f4f1e8"/>
<circle cx="373.9" cy="198.8" r="2.0" fill="#45a078"/>
<circle cx="433.2" cy="227.9" r="2.2" fill="#45a078"/>
<circle cx="360.7" cy="208.3" r="1.2" fill="#45a078"/>
<circle cx="315.9" cy="175.4" r="1.8" fill="#45a078"/>
<circle cx="482.7" cy="229.7" r="2.0" fill="#45a078"/>
<circle cx="313.6" cy="177.9" r="2.1" fill="#45a078"/>
<circle cx="322.7" cy="177.5" r="1.9" fill="#45a078"/>
<circle cx="364.7" cy="202.7" r="1.2" fill="#cf7d45"/>
<circle cx="403.7" cy="215.5" r="2.1" fill="#45a078"/>
<circle cx="451.9" cy="235.0" r="2.0" fill="#f4f1e8"/>
<circle cx="329.8" cy="183.7" r="1.5" fill="#62b28c"/>
<circle cx="324.7" cy="185.6" r="2.4" fill="#45a078"/>
<circle cx="372.6" cy="202.7" r="1.5" fill="#cf7d45"/>
<circle cx="477.7" cy="230.0" r="1.9" fill="#45a078"/>
<circle cx="345.1" cy="199.6" r="2.0" fill="#f4f1e8"/>
<circle cx="352.3" cy="201.6" r="1.5" fill="#62b28c"/>
<circle cx="465.0" cy="226.7" r="2.3" fill="#45a078"/>
<circle cx="291.1" cy="176.8" r="2.0" fill="#45a078"/>
<circle cx="472.4" cy="231.5" r="2.1" fill="#62b28c"/>
<circle cx="422.5" cy="227.1" r="1.5" fill="#f4f1e8"/>
<circle cx="299.9" cy="176.3" r="1.4" fill="#45a078"/>
<circle cx="357.4" cy="209.9" r="1.9" fill="#45a078"/>
<circle cx="313.7" cy="176.7" r="2.1" fill="#f4f1e8"/>
<circle cx="432.5" cy="230.2" r="2.2" fill="#45a078"/>
<circle cx="344.8" cy="193.1" r="2.1" fill="#f4f1e8"/>
<circle cx="423.1" cy="229.7" r="1.5" fill="#62b28c"/>
<circle cx="436.9" cy="228.8" r="2.0" fill="#f4f1e8"/>
<circle cx="365.1" cy="201.5" r="1.5" fill="#cf7d45"/>
<circle cx="422.4" cy="226.5" r="1.2" fill="#45a078"/>
<circle cx="341.8" cy="188.5" r="2.0" fill="#62b28c"/>
<circle cx="422.3" cy="223.6" r="2.1" fill="#45a078"/>
<circle cx="430.0" cy="231.9" r="1.4" fill="#f4f1e8"/>
<circle cx="479.8" cy="230.6" r="1.9" fill="#62b28c"/>
<circle cx="424.7" cy="226.3" r="1.4" fill="#45a078"/>
<circle cx="330.3" cy="176.1" r="2.1" fill="#45a078"/>
<circle cx="369.6" cy="206.3" r="1.2" fill="#cf7d45"/>
<circle cx="442.4" cy="226.0" r="2.1" fill="#45a078"/>
<circle cx="450.9" cy="232.6" r="1.1" fill="#cf7d45"/>
<circle cx="289.1" cy="174.9" r="2.1" fill="#62b28c"/>
<circle cx="352.1" cy="203.5" r="1.7" fill="#f4f1e8"/>
<circle cx="334.5" cy="181.5" r="1.9" fill="#45a078"/>
<circle cx="284.8" cy="173.3" r="1.4" fill="#45a078"/>
<circle cx="375.2" cy="198.4" r="2.0" fill="#45a078"/>
<circle cx="301.2" cy="184.1" r="1.8" fill="#45a078"/>
<circle cx="427.2" cy="232.7" r="1.8" fill="#45a078"/>
<circle cx="431.2" cy="231.8" r="1.2" fill="#45a078"/>
<circle cx="340.9" cy="192.6" r="1.6" fill="#f4f1e8"/>
<circle cx="301.4" cy="185.6" r="1.9" fill="#45a078"/>
<circle cx="381.4" cy="200.1" r="1.0" fill="#cf7d45"/>
<circle cx="316.1" cy="182.1" r="1.5" fill="#62b28c"/>
<circle cx="397.1" cy="206.0" r="1.1" fill="#45a078"/>
<circle cx="470.6" cy="236.5" r="2.4" fill="#45a078"/>
<circle cx="283.9" cy="171.1" r="1.7" fill="#f4f1e8"/>
<circle cx="398.6" cy="214.0" r="1.5" fill="#62b28c"/>
<circle cx="342.2" cy="196.2" r="1.2" fill="#cf7d45"/>
<circle cx="436.7" cy="226.3" r="2.0" fill="#f4f1e8"/>
<circle cx="394.6" cy="202.2" r="2.2" fill="#f4f1e8"/>
<circle cx="332.3" cy="183.2" r="1.1" fill="#45a078"/>
<circle cx="399.9" cy="211.7" r="1.3" fill="#45a078"/>
<circle cx="444.2" cy="225.7" r="1.2" fill="#45a078"/>
<circle cx="324.3" cy="181.0" r="2.1" fill="#62b28c"/>
<circle cx="362.7" cy="202.3" r="2.3" fill="#45a078"/>
<circle cx="378.4" cy="203.7" r="1.3" fill="#f4f1e8"/>
<circle cx="353.1" cy="198.8" r="1.6" fill="#62b28c"/>
<circle cx="326.5" cy="185.5" r="2.3" fill="#45a078"/>
<circle cx="463.1" cy="235.0" r="1.8" fill="#45a078"/>
<circle cx="433.5" cy="233.3" r="1.6" fill="#cf7d45"/>
<circle cx="314.1" cy="174.2" r="1.2" fill="#cf7d45"/>
<circle cx="296.3" cy="186.7" r="1.3" fill="#45a078"/>
<circle cx="361.5" cy="198.5" r="2.2" fill="#f4f1e8"/>
<circle cx="304.9" cy="176.9" r="1.2" fill="#45a078"/>
<circle cx="399.6" cy="204.7" r="1.6" fill="#45a078"/>
<circle cx="343.5" cy="198.6" r="2.1" fill="#f4f1e8"/>
<circle cx="297.2" cy="184.9" r="1.2" fill="#f4f1e8"/>
<circle cx="431.8" cy="236.1" r="1.4" fill="#cf7d45"/>
<circle cx="468.4" cy="238.7" r="1.6" fill="#cf7d45"/>
<circle cx="351.5" cy="200.8" r="1.3" fill="#45a078"/>
<circle cx="464.9" cy="226.9" r="1.6" fill="#cf7d45"/>
<circle cx="350.6" cy="200.7" r="1.1" fill="#cf7d45"/>
<circle cx="384.6" cy="203.4" r="2.0" fill="#62b28c"/>
<circle cx="348.4" cy="205.5" r="1.5" fill="#45a078"/>
<circle cx="443.0" cy="229.7" r="1.3" fill="#45a078"/>
<circle cx="433.5" cy="228.9" r="1.3" fill="#45a078"/>
<circle cx="353.6" cy="202.5" r="1.3" fill="#45a078"/>
<circle cx="330.2" cy="180.6" r="0.9" fill="#cf7d45"/>
<circle cx="353.1" cy="200.5" r="1.0" fill="#cf7d45"/>
<circle cx="271.4" cy="165.1" r="2.3" fill="#45a078"/>
<circle cx="367.3" cy="203.4" r="2.3" fill="#45a078"/>
<circle cx="307.0" cy="174.6" r="2.1" fill="#f4f1e8"/>
<circle cx="340.8" cy="193.7" r="1.7" fill="#45a078"/>
<circle cx="370.8" cy="197.5" r="2.3" fill="#45a078"/>
<circle cx="476.6" cy="234.6" r="1.8" fill="#f4f1e8"/>
<circle cx="289.1" cy="177.7" r="1.5" fill="#45a078"/>
<circle cx="438.0" cy="236.8" r="1.7" fill="#f4f1e8"/>
<circle cx="422.3" cy="225.7" r="1.0" fill="#cf7d45"/>
<circle cx="469.0" cy="235.9" r="1.2" fill="#45a078"/>
<circle cx="309.1" cy="176.7" r="1.3" fill="#cf7d45"/>
<circle cx="445.1" cy="225.4" r="2.2" fill="#45a078"/>
<circle cx="469.6" cy="230.6" r="1.6" fill="#45a078"/>
<circle cx="328.8" cy="176.2" r="1.5" fill="#45a078"/>
<circle cx="323.3" cy="178.4" r="1.5" fill="#f4f1e8"/>
<circle cx="307.0" cy="184.4" r="1.7" fill="#45a078"/>
<circle cx="406.5" cy="221.0" r="2.3" fill="#45a078"/>
<circle cx="323.0" cy="180.5" r="2.4" fill="#45a078"/>
<circle cx="348.3" cy="198.2" r="2.3" fill="#45a078"/>
<circle cx="416.5" cy="233.1" r="1.0" fill="#cf7d45"/>
<circle cx="406.1" cy="212.9" r="1.5" fill="#45a078"/>
<circle cx="356.6" cy="201.1" r="1.4" fill="#45a078"/>
<circle cx="426.1" cy="232.4" r="2.4" fill="#45a078"/>
<circle cx="479.5" cy="232.4" r="2.1" fill="#f4f1e8"/>
<circle cx="408.1" cy="220.3" r="1.5" fill="#45a078"/>
<circle cx="459.0" cy="224.9" r="1.3" fill="#f4f1e8"/>
<circle cx="300.6" cy="181.1" r="1.1" fill="#cf7d45"/>
<circle cx="344.9" cy="194.2" r="1.2" fill="#f4f1e8"/>
<circle cx="394.3" cy="210.1" r="1.5" fill="#f4f1e8"/>
<circle cx="327.4" cy="177.9" r="1.1" fill="#45a078"/>
<circle cx="382.8" cy="201.8" r="1.7" fill="#f4f1e8"/>
<circle cx="440.5" cy="234.6" r="1.7" fill="#45a078"/>
<circle cx="319.5" cy="173.3" r="1.4" fill="#f4f1e8"/>
<circle cx="304.9" cy="180.5" r="1.3" fill="#62b28c"/>
<circle cx="323.8" cy="184.5" r="2.1" fill="#45a078"/>
<circle cx="465.1" cy="229.9" r="1.0" fill="#cf7d45"/>
<circle cx="472.6" cy="229.7" r="1.2" fill="#45a078"/>
<circle cx="267.9" cy="164.7" r="1.7" fill="#62b28c"/>
<circle cx="319.8" cy="173.5" r="1.4" fill="#45a078"/>
<circle cx="398.8" cy="202.9" r="1.9" fill="#62b28c"/>
<circle cx="313.4" cy="180.6" r="1.8" fill="#f4f1e8"/>
<circle cx="357.1" cy="201.8" r="1.2" fill="#45a078"/>
<circle cx="336.2" cy="186.2" r="1.2" fill="#cf7d45"/>
<circle cx="365.1" cy="206.8" r="0.9" fill="#cf7d45"/>
<circle cx="423.6" cy="232.6" r="1.5" fill="#f4f1e8"/>
<circle cx="300.8" cy="177.9" r="2.1" fill="#f4f1e8"/>
<circle cx="285.3" cy="177.8" r="1.1" fill="#45a078"/>
<circle cx="488.9" cy="231.8" r="1.7" fill="#f4f1e8"/>
<circle cx="383.4" cy="207.4" r="1.5" fill="#f4f1e8"/>
<circle cx="327.6" cy="184.0" r="2.2" fill="#45a078"/>
<circle cx="287.9" cy="177.5" r="1.3" fill="#45a078"/>
<circle cx="318.2" cy="174.5" r="1.9" fill="#45a078"/>
<circle cx="474.7" cy="231.0" r="1.8" fill="#45a078"/>
<circle cx="320.8" cy="183.4" r="1.8" fill="#45a078"/>
<circle cx="412.1" cy="220.6" r="2.0" fill="#45a078"/>
<circle cx="378.4" cy="201.1" r="2.1" fill="#f4f1e8"/>
<circle cx="426.1" cy="232.1" r="2.0" fill="#45a078"/>
<circle cx="349.6" cy="206.0" r="2.1" fill="#45a078"/>
<circle cx="294.7" cy="183.8" r="2.2" fill="#45a078"/>
<circle cx="301.8" cy="175.2" r="1.7" fill="#f4f1e8"/>
<circle cx="283.1" cy="167.2" r="1.8" fill="#45a078"/>
<circle cx="287.5" cy="181.0" r="1.1" fill="#45a078"/>
<circle cx="346.7" cy="193.3" r="1.4" fill="#f4f1e8"/>
<circle cx="408.8" cy="220.8" r="1.2" fill="#45a078"/>
<circle cx="478.7" cy="231.5" r="2.2" fill="#45a078"/>
<circle cx="284.3" cy="175.9" r="1.2" fill="#45a078"/>
<circle cx="400.9" cy="211.1" r="1.0" fill="#cf7d45"/>
<circle cx="362.9" cy="206.6" r="1.9" fill="#45a078"/>
<circle cx="309.3" cy="176.2" r="1.7" fill="#62b28c"/>
<circle cx="341.1" cy="195.9" r="1.0" fill="#cf7d45"/>
<circle cx="350.7" cy="198.8" r="1.9" fill="#f4f1e8"/>
<circle cx="371.3" cy="196.9" r="1.3" fill="#45a078"/>
<circle cx="356.3" cy="198.0" r="1.8" fill="#45a078"/>
<circle cx="369.9" cy="199.3" r="1.3" fill="#45a078"/>
<circle cx="459.4" cy="227.2" r="1.3" fill="#45a078"/>
<circle cx="353.3" cy="206.0" r="2.1" fill="#62b28c"/>
<circle cx="280.9" cy="171.9" r="1.8" fill="#45a078"/>
<circle cx="443.2" cy="231.1" r="1.0" fill="#cf7d45"/>
<circle cx="484.7" cy="240.0" r="2.1" fill="#f4f1e8"/>
<circle cx="336.8" cy="181.1" r="1.6" fill="#45a078"/>
<circle cx="304.9" cy="176.3" r="1.7" fill="#f4f1e8"/>
<circle cx="440.5" cy="225.1" r="2.3" fill="#45a078"/>
<circle cx="335.6" cy="186.2" r="1.1" fill="#cf7d45"/>
<circle cx="466.3" cy="233.2" r="1.5" fill="#45a078"/>
<circle cx="340.5" cy="197.8" r="2.4" fill="#45a078"/>
<circle cx="376.4" cy="203.8" r="2.1" fill="#f4f1e8"/>
<circle cx="482.3" cy="238.0" r="2.0" fill="#f4f1e8"/>
<circle cx="427.4" cy="232.0" r="1.8" fill="#45a078"/>
<circle cx="375.0" cy="204.2" r="2.1" fill="#f4f1e8"/>
<circle cx="422.9" cy="231.2" r="1.6" fill="#45a078"/>
<circle cx="322.1" cy="179.4" r="1.2" fill="#cf7d45"/>
<circle cx="466.6" cy="228.5" r="1.2" fill="#45a078"/>
<circle cx="435.3" cy="226.9" r="1.8" fill="#45a078"/>
<circle cx="304.9" cy="182.8" r="1.3" fill="#45a078"/>
<circle cx="340.7" cy="188.9" r="2.0" fill="#f4f1e8"/>
<circle cx="481.9" cy="240.3" r="1.8" fill="#f4f1e8"/>
<circle cx="290.8" cy="176.9" r="2.1" fill="#f4f1e8"/>
<circle cx="331.8" cy="180.3" r="1.2" fill="#f4f1e8"/>
<circle cx="402.4" cy="219.4" r="1.1" fill="#cf7d45"/>
<circle cx="360.3" cy="207.9" r="1.1" fill="#cf7d45"/>
<circle cx="419.1" cy="220.8" r="2.3" fill="#45a078"/>
<circle cx="269.9" cy="165.3" r="1.1" fill="#cf7d45"/>
<circle cx="425.9" cy="231.1" r="1.7" fill="#45a078"/>
<circle cx="388.5" cy="201.1" r="1.5" fill="#f4f1e8"/>
<circle cx="429.0" cy="231.7" r="1.9" fill="#45a078"/>
<circle cx="391.6" cy="206.3" r="1.9" fill="#45a078"/>
<circle cx="361.0" cy="206.5" r="1.7" fill="#f4f1e8"/>
<circle cx="466.9" cy="233.3" r="1.7" fill="#45a078"/>
<circle cx="402.2" cy="209.8" r="1.3" fill="#45a078"/>
<circle cx="274.9" cy="171.7" r="1.3" fill="#45a078"/>
<circle cx="478.7" cy="232.9" r="1.6" fill="#45a078"/>
<circle cx="272.4" cy="173.7" r="1.4" fill="#45a078"/>
<circle cx="280.0" cy="175.9" r="1.8" fill="#45a078"/>
<circle cx="488.4" cy="229.8" r="1.8" fill="#f4f1e8"/>
<circle cx="384.5" cy="203.4" r="1.9" fill="#62b28c"/>
<circle cx="278.9" cy="169.9" r="2.0" fill="#45a078"/>
<circle cx="359.3" cy="209.9" r="1.8" fill="#45a078"/>
<circle cx="307.7" cy="176.2" r="1.7" fill="#62b28c"/>
<circle cx="389.5" cy="203.7" r="1.4" fill="#45a078"/>
<circle cx="345.6" cy="203.5" r="1.8" fill="#45a078"/>
<circle cx="401.6" cy="210.6" r="1.9" fill="#45a078"/>
<circle cx="316.2" cy="183.8" r="1.6" fill="#45a078"/>
<circle cx="326.1" cy="178.2" r="1.4" fill="#f4f1e8"/>
<circle cx="306.3" cy="185.0" r="1.7" fill="#62b28c"/>
<circle cx="400.6" cy="212.8" r="2.4" fill="#45a078"/>
<circle cx="446.4" cy="230.6" r="2.1" fill="#45a078"/>
<circle cx="445.6" cy="235.0" r="1.2" fill="#45a078"/>
<circle cx="427.9" cy="235.0" r="1.6" fill="#f4f1e8"/>
<circle cx="344.8" cy="199.2" r="1.6" fill="#45a078"/>
<circle cx="406.4" cy="213.3" r="2.1" fill="#45a078"/>
<circle cx="281.0" cy="169.1" r="1.4" fill="#45a078"/>
<circle cx="399.9" cy="210.0" r="1.9" fill="#f4f1e8"/>
<circle cx="402.2" cy="205.3" r="1.5" fill="#45a078"/>
<circle cx="329.1" cy="188.5" r="2.0" fill="#45a078"/>
<circle cx="467.6" cy="230.9" r="2.0" fill="#62b28c"/>
<circle cx="341.7" cy="189.9" r="1.7" fill="#f4f1e8"/>
<circle cx="475.1" cy="236.6" r="1.4" fill="#cf7d45"/>
<circle cx="382.6" cy="206.3" r="1.2" fill="#cf7d45"/>
<circle cx="344.7" cy="195.6" r="1.4" fill="#cf7d45"/>
<circle cx="381.7" cy="203.2" r="1.3" fill="#f4f1e8"/>
<circle cx="438.2" cy="231.5" r="1.2" fill="#f4f1e8"/>
<circle cx="401.1" cy="216.7" r="1.3" fill="#cf7d45"/>
<circle cx="374.5" cy="204.3" r="2.4" fill="#45a078"/>
<circle cx="293.7" cy="178.5" r="1.6" fill="#62b28c"/>
<circle cx="300.9" cy="181.8" r="1.5" fill="#cf7d45"/>
<circle cx="462.1" cy="230.2" r="1.6" fill="#62b28c"/>
<circle cx="383.3" cy="198.2" r="1.7" fill="#45a078"/>
<circle cx="337.8" cy="190.2" r="1.1" fill="#cf7d45"/>
<circle cx="443.1" cy="235.4" r="1.8" fill="#45a078"/>
<circle cx="406.8" cy="217.5" r="1.5" fill="#45a078"/>
<circle cx="305.2" cy="192.9" r="1.8" fill="#f6f4ee" stroke="#c9c6b8" stroke-width="0.4"/>
<circle cx="299.0" cy="183.6" r="1.6" fill="#f6f4ee" stroke="#c9c6b8" stroke-width="0.4"/>
<circle cx="293.6" cy="189.1" r="1.9" fill="#f6f4ee" stroke="#c9c6b8" stroke-width="0.4"/>
<circle cx="292.6" cy="193.9" r="1.7" fill="#f6f4ee" stroke="#c9c6b8" stroke-width="0.4"/>
<circle cx="306.2" cy="192.7" r="2.4" fill="#f6f4ee" stroke="#c9c6b8" stroke-width="0.4"/>
<circle cx="294.7" cy="187.0" r="2.3" fill="#f6f4ee" stroke="#c9c6b8" stroke-width="0.4"/>
<circle cx="291.2" cy="181.7" r="1.9" fill="#f6f4ee" stroke="#c9c6b8" stroke-width="0.4"/>
<circle cx="300.0" cy="193.9" r="2.2" fill="#f6f4ee" stroke="#c9c6b8" stroke-width="0.4"/>
<circle cx="300.7" cy="195.0" r="1.9" fill="#f6f4ee" stroke="#c9c6b8" stroke-width="0.4"/>
<circle cx="300.3" cy="190.6" r="1.7" fill="#f6f4ee" stroke="#c9c6b8" stroke-width="0.4"/>
<circle cx="297.4" cy="189.3" r="1.7" fill="#f6f4ee" stroke="#c9c6b8" stroke-width="0.4"/>
<circle cx="308.1" cy="190.5" r="1.9" fill="#f6f4ee" stroke="#c9c6b8" stroke-width="0.4"/>
<circle cx="292.8" cy="186.2" r="1.7" fill="#f6f4ee" stroke="#c9c6b8" stroke-width="0.4"/>
<circle cx="301.1" cy="189.0" r="2.3" fill="#f6f4ee" stroke="#c9c6b8" stroke-width="0.4"/>
<circle cx="370.4" cy="209.8" r="1.8" fill="#f6f4ee" stroke="#c9c6b8" stroke-width="0.4"/>
<circle cx="364.2" cy="216.9" r="1.7" fill="#f6f4ee" stroke="#c9c6b8" stroke-width="0.4"/>
<circle cx="362.5" cy="214.4" r="1.5" fill="#f6f4ee" stroke="#c9c6b8" stroke-width="0.4"/>
<circle cx="358.7" cy="216.7" r="2.2" fill="#f6f4ee" stroke="#c9c6b8" stroke-width="0.4"/>
<circle cx="362.2" cy="204.5" r="2.3" fill="#f6f4ee" stroke="#c9c6b8" stroke-width="0.4"/>
<circle cx="365.4" cy="214.5" r="2.4" fill="#f6f4ee" stroke="#c9c6b8" stroke-width="0.4"/>
<circle cx="369.0" cy="208.9" r="1.5" fill="#f6f4ee" stroke="#c9c6b8" stroke-width="0.4"/>
<circle cx="358.2" cy="210.2" r="1.9" fill="#f6f4ee" stroke="#c9c6b8" stroke-width="0.4"/>
<circle cx="356.4" cy="205.6" r="2.0" fill="#f6f4ee" stroke="#c9c6b8" stroke-width="0.4"/>
<circle cx="363.9" cy="207.9" r="2.4" fill="#f6f4ee" stroke="#c9c6b8" stroke-width="0.4"/>
<circle cx="364.5" cy="203.6" r="1.8" fill="#f6f4ee" stroke="#c9c6b8" stroke-width="0.4"/>
<circle cx="367.2" cy="207.3" r="2.1" fill="#f6f4ee" stroke="#c9c6b8" stroke-width="0.4"/>
<circle cx="353.1" cy="207.3" r="2.2" fill="#f6f4ee" stroke="#c9c6b8" stroke-width="0.4"/>
<circle cx="363.6" cy="212.4" r="1.5" fill="#f6f4ee" stroke="#c9c6b8" stroke-width="0.4"/>
<circle cx="432.0" cy="238.7" r="1.6" fill="#f6f4ee" stroke="#c9c6b8" stroke-width="0.4"/>
<circle cx="434.6" cy="238.4" r="2.4" fill="#f6f4ee" stroke="#c9c6b8" stroke-width="0.4"/>
<circle cx="433.3" cy="236.8" r="1.4" fill="#f6f4ee" stroke="#c9c6b8" stroke-width="0.4"/>
<circle cx="425.8" cy="241.6" r="1.4" fill="#f6f4ee" stroke="#c9c6b8" stroke-width="0.4"/>
<circle cx="424.8" cy="233.4" r="1.9" fill="#f6f4ee" stroke="#c9c6b8" stroke-width="0.4"/>
<circle cx="437.8" cy="239.6" r="2.2" fill="#f6f4ee" stroke="#c9c6b8" stroke-width="0.4"/>
<circle cx="424.1" cy="231.2" r="2.1" fill="#f6f4ee" stroke="#c9c6b8" stroke-width="0.4"/>
<circle cx="428.8" cy="241.0" r="1.7" fill="#f6f4ee" stroke="#c9c6b8" stroke-width="0.4"/>
<circle cx="426.0" cy="234.7" r="1.4" fill="#f6f4ee" stroke="#c9c6b8" stroke-width="0.4"/>
<circle cx="439.3" cy="239.2" r="1.7" fill="#f6f4ee" stroke="#c9c6b8" stroke-width="0.4"/>
<circle cx="431.1" cy="236.4" r="1.4" fill="#f6f4ee" stroke="#c9c6b8" stroke-width="0.4"/>
<circle cx="439.0" cy="239.2" r="2.4" fill="#f6f4ee" stroke="#c9c6b8" stroke-width="0.4"/>
<circle cx="430.9" cy="239.7" r="1.6" fill="#f6f4ee" stroke="#c9c6b8" stroke-width="0.4"/>
<circle cx="423.8" cy="244.0" r="2.2" fill="#f6f4ee" stroke="#c9c6b8" stroke-width="0.4"/>
<circle cx="468.7" cy="245.6" r="2.2" fill="#f6f4ee" stroke="#c9c6b8" stroke-width="0.4"/>
<circle cx="468.5" cy="241.4" r="2.4" fill="#f6f4ee" stroke="#c9c6b8" stroke-width="0.4"/>
<circle cx="471.9" cy="246.3" r="1.6" fill="#f6f4ee" stroke="#c9c6b8" stroke-width="0.4"/>
<circle cx="470.0" cy="243.1" r="1.5" fill="#f6f4ee" stroke="#c9c6b8" stroke-width="0.4"/>
<circle cx="468.6" cy="245.3" r="1.8" fill="#f6f4ee" stroke="#c9c6b8" stroke-width="0.4"/>
<circle cx="477.3" cy="236.4" r="1.5" fill="#f6f4ee" stroke="#c9c6b8" stroke-width="0.4"/>
<circle cx="469.5" cy="235.6" r="2.4" fill="#f6f4ee" stroke="#c9c6b8" stroke-width="0.4"/>
<circle cx="468.2" cy="240.9" r="1.4" fill="#f6f4ee" stroke="#c9c6b8" stroke-width="0.4"/>
<circle cx="472.6" cy="238.4" r="1.7" fill="#f6f4ee" stroke="#c9c6b8" stroke-width="0.4"/>
<circle cx="464.2" cy="234.7" r="2.2" fill="#f6f4ee" stroke="#c9c6b8" stroke-width="0.4"/>
<circle cx="469.3" cy="236.4" r="1.5" fill="#f6f4ee" stroke="#c9c6b8" stroke-width="0.4"/>
<circle cx="468.1" cy="236.3" r="1.3" fill="#f6f4ee" stroke="#c9c6b8" stroke-width="0.4"/>
<circle cx="475.0" cy="237.8" r="1.5" fill="#f6f4ee" stroke="#c9c6b8" stroke-width="0.4"/>
<circle cx="475.7" cy="234.3" r="1.6" fill="#f6f4ee" stroke="#c9c6b8" stroke-width="0.4"/>
<circle cx="266.7" cy="257.8" r="2.3" fill="#f6f3ea"/>
<circle cx="282.7" cy="264.0" r="1.6" fill="#f6f3ea"/>
<circle cx="413.9" cy="314.3" r="2.2" fill="#3f9a72"/>
<circle cx="430.4" cy="324.0" r="1.6" fill="#3f9a72"/>
<circle cx="280.1" cy="259.6" r="1.5" fill="#f6f3ea"/>
<circle cx="431.9" cy="322.1" r="2.3" fill="#3f9a72"/>
<circle cx="284.0" cy="263.0" r="1.6" fill="#f6f3ea"/>
<circle cx="235.1" cy="246.9" r="1.4" fill="#3f9a72"/>
<circle cx="391.0" cy="303.1" r="1.7" fill="#3f9a72"/>
<circle cx="212.3" cy="233.6" r="1.8" fill="#3f9a72"/>
<circle cx="289.7" cy="259.7" r="2.2" fill="#f6f3ea"/>
<circle cx="382.5" cy="299.3" r="1.8" fill="#3f9a72"/>
<circle cx="312.2" cy="278.8" r="1.8" fill="#3f9a72"/>
<circle cx="399.1" cy="315.5" r="2.3" fill="#3f9a72"/>
<circle cx="275.0" cy="257.1" r="2.3" fill="#f6f3ea"/>
<circle cx="381.7" cy="306.7" r="2.1" fill="#f6f3ea"/>
<circle cx="432.1" cy="321.9" r="2.0" fill="#3f9a72"/>
<circle cx="221.5" cy="244.6" r="2.1" fill="#f6f3ea"/>
<circle cx="298.2" cy="264.8" r="2.5" fill="#f6f3ea"/>
<circle cx="265.2" cy="249.4" r="2.1" fill="#f6f3ea"/>
<circle cx="216.3" cy="242.3" r="2.1" fill="#3f9a72"/>
<circle cx="297.8" cy="265.1" r="2.2" fill="#3f9a72"/>
<circle cx="415.5" cy="322.0" r="2.0" fill="#3f9a72"/>
<circle cx="248.3" cy="244.6" r="1.1" fill="#d46a3a"/>
<circle cx="217.4" cy="240.1" r="1.1" fill="#d46a3a"/>
<circle cx="297.2" cy="267.4" r="1.1" fill="#d46a3a"/>
<circle cx="376.3" cy="303.8" r="1.1" fill="#d46a3a"/>
<circle cx="428.6" cy="319.4" r="2.0" fill="#3f9a72"/>
<circle cx="232.4" cy="241.2" r="2.4" fill="#3f9a72"/>
<circle cx="377.9" cy="304.1" r="2.3" fill="#f6f3ea"/>
<circle cx="433.1" cy="321.3" r="1.4" fill="#3f9a72"/>
<circle cx="263.4" cy="258.8" r="1.6" fill="#f6f3ea"/>
<circle cx="314.8" cy="279.5" r="1.3" fill="#d46a3a"/>
<circle cx="294.2" cy="262.5" r="2.3" fill="#3f9a72"/>
<circle cx="360.5" cy="295.3" r="1.4" fill="#d46a3a"/>
<circle cx="257.2" cy="252.0" r="1.6" fill="#f6f3ea"/>
<circle cx="297.8" cy="271.9" r="2.3" fill="#f6f3ea"/>
<circle cx="276.0" cy="256.3" r="2.1" fill="#3f9a72"/>
<circle cx="266.2" cy="256.3" r="1.4" fill="#d46a3a"/>
<circle cx="238.2" cy="240.3" r="2.3" fill="#3f9a72"/>
<circle cx="267.9" cy="257.9" r="1.6" fill="#3f9a72"/>
<circle cx="280.9" cy="259.4" r="1.8" fill="#3f9a72"/>
<circle cx="282.3" cy="257.7" r="0.9" fill="#d46a3a"/>
<circle cx="241.7" cy="241.3" r="0.9" fill="#d46a3a"/>
<circle cx="367.2" cy="293.4" r="2.3" fill="#f6f3ea"/>
<circle cx="218.9" cy="244.0" r="1.3" fill="#d46a3a"/>
<circle cx="430.0" cy="328.1" r="1.8" fill="#3f9a72"/>
<circle cx="314.2" cy="274.9" r="1.8" fill="#f6f3ea"/>
<circle cx="302.1" cy="269.4" r="2.2" fill="#3f9a72"/>
<circle cx="240.8" cy="249.8" r="1.8" fill="#3f9a72"/>
<circle cx="333.1" cy="285.3" r="1.1" fill="#d46a3a"/>
<circle cx="218.5" cy="235.6" r="2.2" fill="#3f9a72"/>
<circle cx="277.8" cy="263.2" r="1.7" fill="#3f9a72"/>
<circle cx="256.4" cy="247.7" r="1.4" fill="#3f9a72"/>
<circle cx="365.1" cy="292.8" r="1.2" fill="#d46a3a"/>
<circle cx="290.5" cy="263.3" r="2.0" fill="#3f9a72"/>
<circle cx="316.7" cy="278.0" r="1.5" fill="#3f9a72"/>
<circle cx="426.9" cy="320.9" r="2.2" fill="#3f9a72"/>
<circle cx="436.8" cy="326.6" r="1.1" fill="#d46a3a"/>
<circle cx="220.8" cy="235.7" r="1.6" fill="#f6f3ea"/>
<circle cx="389.4" cy="307.3" r="0.8" fill="#d46a3a"/>
<circle cx="284.7" cy="257.3" r="2.1" fill="#3f9a72"/>
<circle cx="391.7" cy="303.9" r="2.0" fill="#3f9a72"/>
<circle cx="421.1" cy="315.3" r="1.6" fill="#f6f3ea"/>
<circle cx="274.1" cy="255.9" r="1.9" fill="#3f9a72"/>
<circle cx="435.5" cy="326.5" r="1.9" fill="#3f9a72"/>
<circle cx="427.6" cy="322.4" r="1.5" fill="#3f9a72"/>
<circle cx="280.7" cy="260.2" r="1.6" fill="#f6f3ea"/>
<circle cx="215.2" cy="239.5" r="2.4" fill="#f6f3ea"/>
<circle cx="426.0" cy="323.4" r="1.8" fill="#f6f3ea"/>
<circle cx="344.2" cy="286.7" r="2.3" fill="#3f9a72"/>
<circle cx="287.0" cy="264.6" r="1.8" fill="#f6f3ea"/>
<circle cx="268.9" cy="256.5" r="1.0" fill="#d46a3a"/>
<circle cx="401.2" cy="311.6" r="2.4" fill="#3f9a72"/>
<circle cx="312.6" cy="280.0" r="2.1" fill="#3f9a72"/>
<circle cx="227.2" cy="242.2" r="2.3" fill="#f6f3ea"/>
<circle cx="293.8" cy="267.0" r="0.8" fill="#d46a3a"/>
<circle cx="430.2" cy="319.1" r="2.4" fill="#3f9a72"/>
<circle cx="248.3" cy="250.4" r="1.9" fill="#3f9a72"/>
<circle cx="275.3" cy="260.1" r="1.8" fill="#3f9a72"/>
<circle cx="242.1" cy="244.9" r="2.1" fill="#f6f3ea"/>
<circle cx="434.0" cy="322.2" r="1.4" fill="#f6f3ea"/>
<circle cx="297.9" cy="263.7" r="1.4" fill="#d46a3a"/>
<circle cx="212.1" cy="232.1" r="1.8" fill="#f6f3ea"/>
<circle cx="290.8" cy="262.1" r="1.5" fill="#f6f3ea"/>
<circle cx="241.4" cy="245.4" r="1.8" fill="#3f9a72"/>
<circle cx="357.4" cy="288.5" r="2.3" fill="#3f9a72"/>
<circle cx="214.5" cy="236.5" r="1.6" fill="#3f9a72"/>
<circle cx="374.9" cy="302.2" r="2.0" fill="#3f9a72"/>
<circle cx="228.9" cy="243.1" r="1.7" fill="#f6f3ea"/>
<circle cx="218.2" cy="235.4" r="1.8" fill="#3f9a72"/>
<circle cx="297.5" cy="275.0" r="1.4" fill="#3f9a72"/>
<circle cx="426.0" cy="318.7" r="2.0" fill="#f6f3ea"/>
<circle cx="317.6" cy="274.3" r="1.9" fill="#3f9a72"/>
<circle cx="422.1" cy="317.1" r="1.6" fill="#f6f3ea"/>
<circle cx="344.4" cy="284.6" r="2.4" fill="#3f9a72"/>
<circle cx="265.1" cy="248.7" r="1.7" fill="#3f9a72"/>
<circle cx="214.1" cy="238.2" r="2.0" fill="#f6f3ea"/>
<circle cx="424.6" cy="322.1" r="2.3" fill="#f6f3ea"/>
<circle cx="433.4" cy="325.3" r="1.8" fill="#3f9a72"/>
<circle cx="230.3" cy="239.9" r="2.1" fill="#3f9a72"/>
<circle cx="265.1" cy="251.3" r="1.5" fill="#3f9a72"/>
<circle cx="376.9" cy="300.8" r="1.5" fill="#f6f3ea"/>
<circle cx="360.7" cy="292.9" r="2.0" fill="#3f9a72"/>
<circle cx="279.0" cy="264.9" r="1.8" fill="#3f9a72"/>
<circle cx="217.2" cy="233.7" r="1.0" fill="#d46a3a"/>
<circle cx="399.4" cy="308.3" r="2.5" fill="#3f9a72"/>
<circle cx="275.6" cy="259.8" r="1.0" fill="#d46a3a"/>
<circle cx="249.6" cy="248.8" r="1.8" fill="#3f9a72"/>
<circle cx="228.9" cy="245.3" r="2.0" fill="#3f9a72"/>
<circle cx="269.1" cy="258.8" r="1.5" fill="#3f9a72"/>
<circle cx="370.1" cy="295.3" r="2.1" fill="#3f9a72"/>
<circle cx="403.0" cy="313.7" r="2.1" fill="#f6f3ea"/>
<circle cx="434.4" cy="327.9" r="1.5" fill="#f6f3ea"/>
<circle cx="353.5" cy="294.2" r="1.7" fill="#f6f3ea"/>
<circle cx="430.6" cy="327.1" r="2.2" fill="#3f9a72"/>
<circle cx="265.6" cy="257.3" r="1.2" fill="#d46a3a"/>
<circle cx="338.9" cy="288.3" r="1.4" fill="#3f9a72"/>
<circle cx="350.3" cy="293.1" r="2.3" fill="#f6f3ea"/>
<circle cx="259.5" cy="251.5" r="1.6" fill="#3f9a72"/>
<circle cx="419.5" cy="321.8" r="1.6" fill="#3f9a72"/>
<circle cx="383.3" cy="301.9" r="2.6" fill="#3f9a72"/>
<circle cx="217.2" cy="234.9" r="1.0" fill="#d46a3a"/>
<circle cx="213.4" cy="233.6" r="1.5" fill="#f6f3ea"/>
<circle cx="344.8" cy="281.9" r="1.5" fill="#3f9a72"/>
<circle cx="217.9" cy="233.5" r="1.4" fill="#f6f3ea"/>
<circle cx="374.6" cy="298.5" r="2.4" fill="#3f9a72"/>
<circle cx="218.4" cy="234.4" r="1.9" fill="#f6f3ea"/>
<circle cx="380.6" cy="303.8" r="2.2" fill="#3f9a72"/>
<circle cx="358.3" cy="293.7" r="1.5" fill="#f6f3ea"/>
<circle cx="238.4" cy="244.7" r="2.2" fill="#3f9a72"/>
<circle cx="398.5" cy="305.3" r="2.3" fill="#f6f3ea"/>
<circle cx="374.4" cy="293.1" r="1.5" fill="#3f9a72"/>
<circle cx="352.6" cy="286.9" r="2.2" fill="#f6f3ea"/>
<circle cx="229.2" cy="240.2" r="1.9" fill="#3f9a72"/>
<circle cx="270.2" cy="253.7" r="1.4" fill="#3f9a72"/>
<circle cx="341.8" cy="279.5" r="1.6" fill="#3f9a72"/>
<circle cx="335.9" cy="284.8" r="2.1" fill="#f6f3ea"/>
<circle cx="324.4" cy="276.3" r="1.9" fill="#3f9a72"/>
<circle cx="310.2" cy="276.0" r="2.4" fill="#f6f3ea"/>
<circle cx="356.0" cy="288.8" r="1.5" fill="#3f9a72"/>
<circle cx="250.9" cy="243.9" r="2.3" fill="#3f9a72"/>
<circle cx="294.1" cy="272.4" r="2.3" fill="#f6f3ea"/>
<circle cx="380.7" cy="305.5" r="2.2" fill="#f6f3ea"/>
<circle cx="265.4" cy="256.6" r="1.6" fill="#3f9a72"/>
<circle cx="435.9" cy="327.9" r="1.6" fill="#3f9a72"/>
<circle cx="384.0" cy="301.4" r="2.1" fill="#f6f3ea"/>
<circle cx="214.9" cy="231.9" r="2.6" fill="#3f9a72"/>
<circle cx="414.3" cy="314.3" r="1.5" fill="#3f9a72"/>
<circle cx="407.3" cy="318.0" r="2.2" fill="#3f9a72"/>
<circle cx="276.7" cy="262.0" r="0.9" fill="#d46a3a"/>
<circle cx="284.1" cy="265.5" r="1.5" fill="#3f9a72"/>
<circle cx="324.7" cy="274.9" r="1.8" fill="#3f9a72"/>
<circle cx="267.5" cy="256.7" r="1.8" fill="#3f9a72"/>
<circle cx="272.7" cy="255.5" r="0.9" fill="#d46a3a"/>
<circle cx="433.5" cy="324.0" r="1.1" fill="#d46a3a"/>
<circle cx="427.0" cy="326.5" r="1.9" fill="#3f9a72"/>
<circle cx="352.8" cy="287.2" r="2.3" fill="#3f9a72"/>
<circle cx="425.6" cy="318.1" r="2.4" fill="#f6f3ea"/>
<circle cx="214.5" cy="242.4" r="1.7" fill="#3f9a72"/>
<circle cx="274.2" cy="260.9" r="2.1" fill="#3f9a72"/>
<circle cx="243.5" cy="245.0" r="1.5" fill="#f6f3ea"/>
<circle cx="404.5" cy="314.3" r="2.3" fill="#3f9a72"/>
<circle cx="385.0" cy="303.2" r="2.4" fill="#f6f3ea"/>
<circle cx="213.2" cy="233.6" r="1.0" fill="#d46a3a"/>
<circle cx="417.5" cy="312.7" r="0.9" fill="#d46a3a"/>
<circle cx="349.5" cy="293.3" r="1.6" fill="#3f9a72"/>
<circle cx="263.2" cy="251.2" r="1.7" fill="#3f9a72"/>
<circle cx="269.3" cy="260.8" r="1.8" fill="#3f9a72"/>
<circle cx="385.0" cy="298.7" r="1.7" fill="#3f9a72"/>
<ellipse cx="356.3" cy="299.4" rx="1.2" ry="2.1" fill="#3f9a72" opacity="0.8"/>
<ellipse cx="428.8" cy="329.0" rx="1.6" ry="3.2" fill="#3f9a72" opacity="0.8"/>
<ellipse cx="428.3" cy="322.6" rx="1.5" ry="2.8" fill="#3f9a72" opacity="0.8"/>
<ellipse cx="263.3" cy="262.6" rx="1.1" ry="3.5" fill="#3f9a72" opacity="0.8"/>
<ellipse cx="261.8" cy="259.9" rx="1.1" ry="2.0" fill="#3f9a72" opacity="0.8"/>
<ellipse cx="430.4" cy="326.3" rx="1.1" ry="2.5" fill="#3f9a72" opacity="0.8"/>
<ellipse cx="265.4" cy="259.8" rx="1.1" ry="2.9" fill="#3f9a72" opacity="0.8"/>
<ellipse cx="267.3" cy="254.7" rx="1.2" ry="3.9" fill="#3f9a72" opacity="0.8"/>
<ellipse cx="325.9" cy="281.3" rx="1.1" ry="2.5" fill="#3f9a72" opacity="0.8"/>
<ellipse cx="306.6" cy="272.2" rx="1.8" ry="3.0" fill="#3f9a72" opacity="0.8"/>
<ellipse cx="300.2" cy="271.8" rx="1.6" ry="2.3" fill="#3f9a72" opacity="0.8"/>
<ellipse cx="349.2" cy="291.6" rx="1.5" ry="2.2" fill="#3f9a72" opacity="0.8"/>
<ellipse cx="220.4" cy="245.5" rx="1.2" ry="3.2" fill="#3f9a72" opacity="0.8"/>
<ellipse cx="216.7" cy="238.3" rx="1.3" ry="2.2" fill="#3f9a72" opacity="0.8"/>
<ellipse cx="298.0" cy="276.3" rx="1.7" ry="2.7" fill="#3f9a72" opacity="0.8"/>
<ellipse cx="432.7" cy="326.6" rx="1.3" ry="3.9" fill="#3f9a72" opacity="0.8"/>
<ellipse cx="389.9" cy="316.0" rx="1.1" ry="3.0" fill="#3f9a72" opacity="0.8"/>
<ellipse cx="256.4" cy="253.9" rx="1.1" ry="2.4" fill="#3f9a72" opacity="0.8"/>
<ellipse cx="300.1" cy="277.5" rx="1.1" ry="2.0" fill="#3f9a72" opacity="0.8"/>
<ellipse cx="428.3" cy="328.5" rx="1.3" ry="2.1" fill="#3f9a72" opacity="0.8"/>
<ellipse cx="224.4" cy="247.3" rx="1.7" ry="3.6" fill="#3f9a72" opacity="0.8"/>
<ellipse cx="240.2" cy="256.2" rx="1.5" ry="3.6" fill="#3f9a72" opacity="0.8"/>
<ellipse cx="433.4" cy="333.6" rx="1.1" ry="3.7" fill="#3f9a72" opacity="0.8"/>
<ellipse cx="345.6" cy="294.2" rx="1.7" ry="3.6" fill="#3f9a72" opacity="0.8"/>
<ellipse cx="263.8" cy="262.7" rx="1.6" ry="3.7" fill="#3f9a72" opacity="0.8"/>
<ellipse cx="339.4" cy="290.4" rx="1.5" ry="3.3" fill="#3f9a72" opacity="0.8"/>
<ellipse cx="251.3" cy="257.3" rx="1.2" ry="3.7" fill="#3f9a72" opacity="0.8"/>
<ellipse cx="286.1" cy="269.4" rx="1.4" ry="3.8" fill="#3f9a72" opacity="0.8"/>
<ellipse cx="214.8" cy="246.1" rx="1.6" ry="3.4" fill="#3f9a72" opacity="0.8"/>
<ellipse cx="381.8" cy="307.5" rx="1.1" ry="3.3" fill="#3f9a72" opacity="0.8"/>
<ellipse cx="375.4" cy="310.3" rx="1.3" ry="2.6" fill="#3f9a72" opacity="0.8"/>
<ellipse cx="329.2" cy="280.2" rx="1.1" ry="3.6" fill="#3f9a72" opacity="0.8"/>
<ellipse cx="404.8" cy="316.2" rx="1.1" ry="3.1" fill="#3f9a72" opacity="0.8"/>
<ellipse cx="229.8" cy="251.5" rx="1.5" ry="2.6" fill="#3f9a72" opacity="0.8"/>
<ellipse cx="252.1" cy="250.4" rx="1.7" ry="2.8" fill="#3f9a72" opacity="0.8"/>
<ellipse cx="282.4" cy="268.7" rx="1.0" ry="3.6" fill="#3f9a72" opacity="0.8"/>
<ellipse cx="262.6" cy="256.3" rx="1.1" ry="2.3" fill="#3f9a72" opacity="0.8"/>
<ellipse cx="384.3" cy="311.2" rx="1.7" ry="2.8" fill="#3f9a72" opacity="0.8"/>
<ellipse cx="430.5" cy="333.8" rx="1.6" ry="3.2" fill="#3f9a72" opacity="0.8"/>
<ellipse cx="262.6" cy="252.4" rx="1.7" ry="2.2" fill="#3f9a72" opacity="0.8"/>
<ellipse cx="292.9" cy="275.2" rx="1.2" ry="2.7" fill="#3f9a72" opacity="0.8"/>
<ellipse cx="251.9" cy="256.9" rx="1.6" ry="3.3" fill="#3f9a72" opacity="0.8"/>
<ellipse cx="276.7" cy="268.7" rx="1.5" ry="2.2" fill="#3f9a72" opacity="0.8"/>
<ellipse cx="366.8" cy="306.7" rx="1.3" ry="3.3" fill="#3f9a72" opacity="0.8"/>
<ellipse cx="425.5" cy="330.7" rx="1.0" ry="3.3" fill="#3f9a72" opacity="0.8"/>
<circle cx="227.9" cy="228.4" r="1.3" fill="#f7f5ee" stroke="#d2ceb8" stroke-width="0.4"/>
<circle cx="236.3" cy="232.0" r="1.5" fill="#f7f5ee" stroke="#d2ceb8" stroke-width="0.4"/>
<circle cx="225.3" cy="221.6" r="2.0" fill="#f7f5ee" stroke="#d2ceb8" stroke-width="0.4"/>
<circle cx="220.4" cy="226.9" r="1.9" fill="#f7f5ee" stroke="#d2ceb8" stroke-width="0.4"/>
<circle cx="237.9" cy="224.7" r="1.3" fill="#f7f5ee" stroke="#d2ceb8" stroke-width="0.4"/>
<circle cx="237.6" cy="220.9" r="1.5" fill="#f7f5ee" stroke="#d2ceb8" stroke-width="0.4"/>
<circle cx="237.2" cy="225.1" r="2.6" fill="#f7f5ee" stroke="#d2ceb8" stroke-width="0.4"/>
<circle cx="220.8" cy="226.6" r="2.6" fill="#f7f5ee" stroke="#d2ceb8" stroke-width="0.4"/>
<circle cx="230.8" cy="220.4" r="2.3" fill="#f7f5ee" stroke="#d2ceb8" stroke-width="0.4"/>
<circle cx="217.6" cy="225.9" r="1.8" fill="#f7f5ee" stroke="#d2ceb8" stroke-width="0.4"/>
<circle cx="218.9" cy="233.1" r="2.1" fill="#f7f5ee" stroke="#d2ceb8" stroke-width="0.4"/>
<circle cx="227.8" cy="233.5" r="1.8" fill="#f7f5ee" stroke="#d2ceb8" stroke-width="0.4"/>
<circle cx="283.9" cy="241.8" r="2.4" fill="#f7f5ee" stroke="#d2ceb8" stroke-width="0.4"/>
<circle cx="274.9" cy="236.9" r="2.0" fill="#f7f5ee" stroke="#d2ceb8" stroke-width="0.4"/>
<circle cx="283.7" cy="239.6" r="2.3" fill="#f7f5ee" stroke="#d2ceb8" stroke-width="0.4"/>
<circle cx="265.4" cy="241.5" r="2.0" fill="#f7f5ee" stroke="#d2ceb8" stroke-width="0.4"/>
<circle cx="279.0" cy="252.3" r="2.1" fill="#f7f5ee" stroke="#d2ceb8" stroke-width="0.4"/>
<circle cx="285.4" cy="250.0" r="1.8" fill="#f7f5ee" stroke="#d2ceb8" stroke-width="0.4"/>
<circle cx="279.3" cy="240.9" r="2.5" fill="#f7f5ee" stroke="#d2ceb8" stroke-width="0.4"/>
<circle cx="274.4" cy="247.2" r="2.5" fill="#f7f5ee" stroke="#d2ceb8" stroke-width="0.4"/>
<circle cx="272.9" cy="248.3" r="1.8" fill="#f7f5ee" stroke="#d2ceb8" stroke-width="0.4"/>
<circle cx="271.0" cy="250.3" r="1.9" fill="#f7f5ee" stroke="#d2ceb8" stroke-width="0.4"/>
<circle cx="266.5" cy="252.7" r="2.1" fill="#f7f5ee" stroke="#d2ceb8" stroke-width="0.4"/>
<circle cx="275.0" cy="243.3" r="1.5" fill="#f7f5ee" stroke="#d2ceb8" stroke-width="0.4"/>
<circle cx="308.6" cy="249.8" r="1.7" fill="#f7f5ee" stroke="#d2ceb8" stroke-width="0.4"/>
<circle cx="300.8" cy="260.9" r="2.4" fill="#f7f5ee" stroke="#d2ceb8" stroke-width="0.4"/>
<circle cx="298.1" cy="250.4" r="1.8" fill="#f7f5ee" stroke="#d2ceb8" stroke-width="0.4"/>
<circle cx="304.8" cy="256.1" r="2.4" fill="#f7f5ee" stroke="#d2ceb8" stroke-width="0.4"/>
<circle cx="307.7" cy="251.2" r="1.9" fill="#f7f5ee" stroke="#d2ceb8" stroke-width="0.4"/>
<circle cx="289.3" cy="258.6" r="2.2" fill="#f7f5ee" stroke="#d2ceb8" stroke-width="0.4"/>
<circle cx="295.7" cy="259.8" r="1.8" fill="#f7f5ee" stroke="#d2ceb8" stroke-width="0.4"/>
<circle cx="310.6" cy="264.9" r="2.4" fill="#f7f5ee" stroke="#d2ceb8" stroke-width="0.4"/>
<circle cx="291.1" cy="259.8" r="2.4" fill="#f7f5ee" stroke="#d2ceb8" stroke-width="0.4"/>
<circle cx="307.4" cy="261.8" r="2.5" fill="#f7f5ee" stroke="#d2ceb8" stroke-width="0.4"/>
<circle cx="292.7" cy="252.2" r="2.2" fill="#f7f5ee" stroke="#d2ceb8" stroke-width="0.4"/>
<circle cx="305.3" cy="251.1" r="1.8" fill="#f7f5ee" stroke="#d2ceb8" stroke-width="0.4"/>
<circle cx="359.5" cy="281.2" r="2.4" fill="#f7f5ee" stroke="#d2ceb8" stroke-width="0.4"/>
<circle cx="349.8" cy="276.0" r="1.7" fill="#f7f5ee" stroke="#d2ceb8" stroke-width="0.4"/>
<circle cx="360.0" cy="279.8" r="1.5" fill="#f7f5ee" stroke="#d2ceb8" stroke-width="0.4"/>
<circle cx="357.2" cy="274.4" r="2.5" fill="#f7f5ee" stroke="#d2ceb8" stroke-width="0.4"/>
<circle cx="347.4" cy="270.8" r="2.2" fill="#f7f5ee" stroke="#d2ceb8" stroke-width="0.4"/>
<circle cx="361.3" cy="268.2" r="1.3" fill="#f7f5ee" stroke="#d2ceb8" stroke-width="0.4"/>
<circle cx="353.6" cy="271.2" r="1.9" fill="#f7f5ee" stroke="#d2ceb8" stroke-width="0.4"/>
<circle cx="345.7" cy="280.1" r="2.3" fill="#f7f5ee" stroke="#d2ceb8" stroke-width="0.4"/>
<circle cx="355.9" cy="282.4" r="1.5" fill="#f7f5ee" stroke="#d2ceb8" stroke-width="0.4"/>
<circle cx="345.9" cy="282.3" r="1.6" fill="#f7f5ee" stroke="#d2ceb8" stroke-width="0.4"/>
<circle cx="343.7" cy="272.1" r="1.3" fill="#f7f5ee" stroke="#d2ceb8" stroke-width="0.4"/>
<circle cx="362.3" cy="283.7" r="1.8" fill="#f7f5ee" stroke="#d2ceb8" stroke-width="0.4"/>
<circle cx="400.3" cy="302.7" r="2.4" fill="#f7f5ee" stroke="#d2ceb8" stroke-width="0.4"/>
<circle cx="402.5" cy="307.1" r="2.2" fill="#f7f5ee" stroke="#d2ceb8" stroke-width="0.4"/>
<circle cx="411.0" cy="301.9" r="2.0" fill="#f7f5ee" stroke="#d2ceb8" stroke-width="0.4"/>
<circle cx="407.4" cy="307.3" r="1.7" fill="#f7f5ee" stroke="#d2ceb8" stroke-width="0.4"/>
<circle cx="401.9" cy="301.2" r="2.5" fill="#f7f5ee" stroke="#d2ceb8" stroke-width="0.4"/>
<circle cx="395.7" cy="291.4" r="2.0" fill="#f7f5ee" stroke="#d2ceb8" stroke-width="0.4"/>
<circle cx="396.7" cy="308.2" r="1.6" fill="#f7f5ee" stroke="#d2ceb8" stroke-width="0.4"/>
<circle cx="404.1" cy="304.8" r="1.9" fill="#f7f5ee" stroke="#d2ceb8" stroke-width="0.4"/>
<circle cx="405.1" cy="308.6" r="2.1" fill="#f7f5ee" stroke="#d2ceb8" stroke-width="0.4"/>
<circle cx="407.1" cy="291.6" r="2.0" fill="#f7f5ee" stroke="#d2ceb8" stroke-width="0.4"/>
<circle cx="404.3" cy="299.7" r="1.7" fill="#f7f5ee" stroke="#d2ceb8" stroke-width="0.4"/>
<circle cx="414.6" cy="308.4" r="2.0" fill="#f7f5ee" stroke="#d2ceb8" stroke-width="0.4"/>
<circle cx="419.1" cy="307.0" r="2.4" fill="#f7f5ee" stroke="#d2ceb8" stroke-width="0.4"/>
<circle cx="420.2" cy="314.5" r="2.1" fill="#f7f5ee" stroke="#d2ceb8" stroke-width="0.4"/>
<circle cx="429.7" cy="301.0" r="1.5" fill="#f7f5ee" stroke="#d2ceb8" stroke-width="0.4"/>
<circle cx="431.8" cy="301.8" r="1.8" fill="#f7f5ee" stroke="#d2ceb8" stroke-width="0.4"/>
<circle cx="435.0" cy="301.9" r="1.4" fill="#f7f5ee" stroke="#d2ceb8" stroke-width="0.4"/>
<circle cx="416.5" cy="304.0" r="2.5" fill="#f7f5ee" stroke="#d2ceb8" stroke-width="0.4"/>
<circle cx="423.0" cy="309.0" r="2.4" fill="#f7f5ee" stroke="#d2ceb8" stroke-width="0.4"/>
<circle cx="415.2" cy="303.7" r="2.0" fill="#f7f5ee" stroke="#d2ceb8" stroke-width="0.4"/>
<circle cx="428.5" cy="301.5" r="2.1" fill="#f7f5ee" stroke="#d2ceb8" stroke-width="0.4"/>
<circle cx="426.7" cy="304.8" r="2.6" fill="#f7f5ee" stroke="#d2ceb8" stroke-width="0.4"/>
<circle cx="433.4" cy="308.1" r="1.5" fill="#f7f5ee" stroke="#d2ceb8" stroke-width="0.4"/>
<circle cx="427.5" cy="299.0" r="1.5" fill="#f7f5ee" stroke="#d2ceb8" stroke-width="0.4"/>
<circle cx="445.7" cy="292.4" r="2.5" fill="#f7f5ee" stroke="#d2ceb8" stroke-width="0.4"/>
<circle cx="429.4" cy="305.0" r="2.3" fill="#f7f5ee" stroke="#d2ceb8" stroke-width="0.4"/>
<circle cx="445.3" cy="304.9" r="1.6" fill="#f7f5ee" stroke="#d2ceb8" stroke-width="0.4"/>
<circle cx="445.6" cy="306.1" r="1.7" fill="#f7f5ee" stroke="#d2ceb8" stroke-width="0.4"/>
<circle cx="446.3" cy="291.4" r="2.3" fill="#f7f5ee" stroke="#d2ceb8" stroke-width="0.4"/>
<circle cx="442.5" cy="291.3" r="1.8" fill="#f7f5ee" stroke="#d2ceb8" stroke-width="0.4"/>
<circle cx="438.2" cy="306.0" r="2.1" fill="#f7f5ee" stroke="#d2ceb8" stroke-width="0.4"/>
<circle cx="445.4" cy="300.7" r="2.0" fill="#f7f5ee" stroke="#d2ceb8" stroke-width="0.4"/>
<circle cx="442.8" cy="301.2" r="1.7" fill="#f7f5ee" stroke="#d2ceb8" stroke-width="0.4"/>
<circle cx="436.8" cy="292.9" r="2.3" fill="#f7f5ee" stroke="#d2ceb8" stroke-width="0.4"/>
<circle cx="444.2" cy="298.6" r="1.3" fill="#f7f5ee" stroke="#d2ceb8" stroke-width="0.4"/>
<circle cx="444.7" cy="304.9" r="1.7" fill="#f7f5ee" stroke="#d2ceb8" stroke-width="0.4"/>
<circle cx="205" cy="215" r="2" fill="#e8e8e8"/>
<circle cx="208" cy="222" r="2" fill="#dcdcdc"/>
<circle cx="204" cy="230" r="2" fill="#f0f0f0"/>
<circle cx="209" cy="233" r="2" fill="#3f9a72"/>
<circle cx="206" cy="236" r="2" fill="#5a3030"/>
<circle cx="266" cy="162" r="2" fill="#44a077"/>
</g>
<polyline points="215,93 271,93 356,200" fill="none" stroke="#2e5fa6" stroke-width="2"/>
<polyline points="561,41.5 494.5,41.5 404.7,145.8" fill="none" stroke="#2e5fa6" stroke-width="2"/>
<polyline points="210,339 255,339 316,244" fill="none" stroke="#2e5fa6" stroke-width="2"/>
<polyline points="554,340 494,340 405,240" fill="none" stroke="#2e5fa6" stroke-width="2"/>
</svg>
<div class="cn" style="left:88px;top:27px">填料</div>
<div class="box" style="left:25.5px;top:68.3px;width:189.5px;height:48px"></div>
<div class="bt" style="left:36.3px;top:80.7px;transform:scaleX(0.871)">FILLER SYSTEM</div>
<div class="g1" style="left:30.0px;top:121.7px;transform:scaleX(0.9942)">Part of insulation layer</div>
<div class="g1" style="left:31.0px;top:138.6px;transform:scaleX(0.9921)">to prove stability</div>

<div class="box" style="left:561.4px;top:17.1px;width:173.3px;height:47.4px"></div>
<div class="bt" style="left:575.1px;top:29.5px;transform:scaleX(0.8795)">COPPER FOIL</div>
<div class="g1" style="left:566.0px;top:70.6px;transform:scaleX(0.9844)">Conductive layer</div>
<div class="cn" style="left:614px;top:94px">铜箔</div>

<div class="cn" style="left:88px;top:274px">树脂</div>
<div class="box" style="left:25px;top:316px;width:184.5px;height:47.7px"></div>
<div class="bt" style="left:36.8px;top:327.7px;transform:scaleX(0.8771)">RESIN SYSTEM</div>
<div class="g1" style="left:28.9px;top:368.9px;transform:scaleX(1.0083)">Insulation layer to determine</div>
<div class="g2" style="left:29.2px;top:389.2px;transform:scaleX(1.0588)">-Heat resistance</div>
<div class="g2" style="left:29.2px;top:404.8px;transform:scaleX(1.1008)">-Dimensional stability</div>
<div class="g2" style="left:29.3px;top:420.9px;transform:scaleX(0.978)">-Low CTE</div>
<div class="g2" style="left:29.3px;top:436.1px;transform:scaleX(1.0129)">-Low Dk, Df</div>

<div class="cn" style="left:601px;top:279px">玻纤布</div>
<div class="box" style="left:554px;top:316.4px;width:180.3px;height:47.3px"></div>
<div class="bt" style="left:567.5px;top:327.7px;transform:scaleX(0.8565)">GLASS FABRIC</div>
<div class="g1" style="left:557.8px;top:369.1px;transform:scaleX(1.0067)">Stiffener to determine</div>
<div class="g2" style="left:556.4px;top:392.6px;transform:scaleX(1.0935)">-Mechanical strength</div>
<div class="g2" style="left:556.4px;top:406.4px;transform:scaleX(1.0609)">-Thickness</div>
<div class="g2" style="left:556.4px;top:421.0px;transform:scaleX(1.1071)">-Dimensional stability</div>
<svg width="40" height="30" style="position:absolute;left:545px;top:410px" viewBox="0 0 40 30">
<ellipse cx="16.5" cy="15" rx="9.5" ry="7.8" fill="#b4b4b4" fill-opacity="0.85" stroke="#fff" stroke-width="1.2"/>
<ellipse cx="25" cy="20.5" rx="8.5" ry="7" fill="#b9b9b9" fill-opacity="0.85" stroke="#fff" stroke-width="1.2"/>
</svg>
<div class="abs" style="left:580px;top:416px;font-size:20.5px;line-height:22px;color:#6e6e6e;text-shadow:0 0 2px #fff,0 0 2px #fff">公众号</div>
<div class="abs" style="left:652px;top:415px;font-size:20px;line-height:22px;color:#7a7a7a;text-shadow:0 0 2px #fff">·</div>
<div class="abs" style="left:667px;top:415.5px;font-size:18.5px;line-height:22px;letter-spacing:1.6px;color:#7c7c7c;text-shadow:0 0 2px #fff,0 0 1px #fff">CINNO</div>
</body></html>
